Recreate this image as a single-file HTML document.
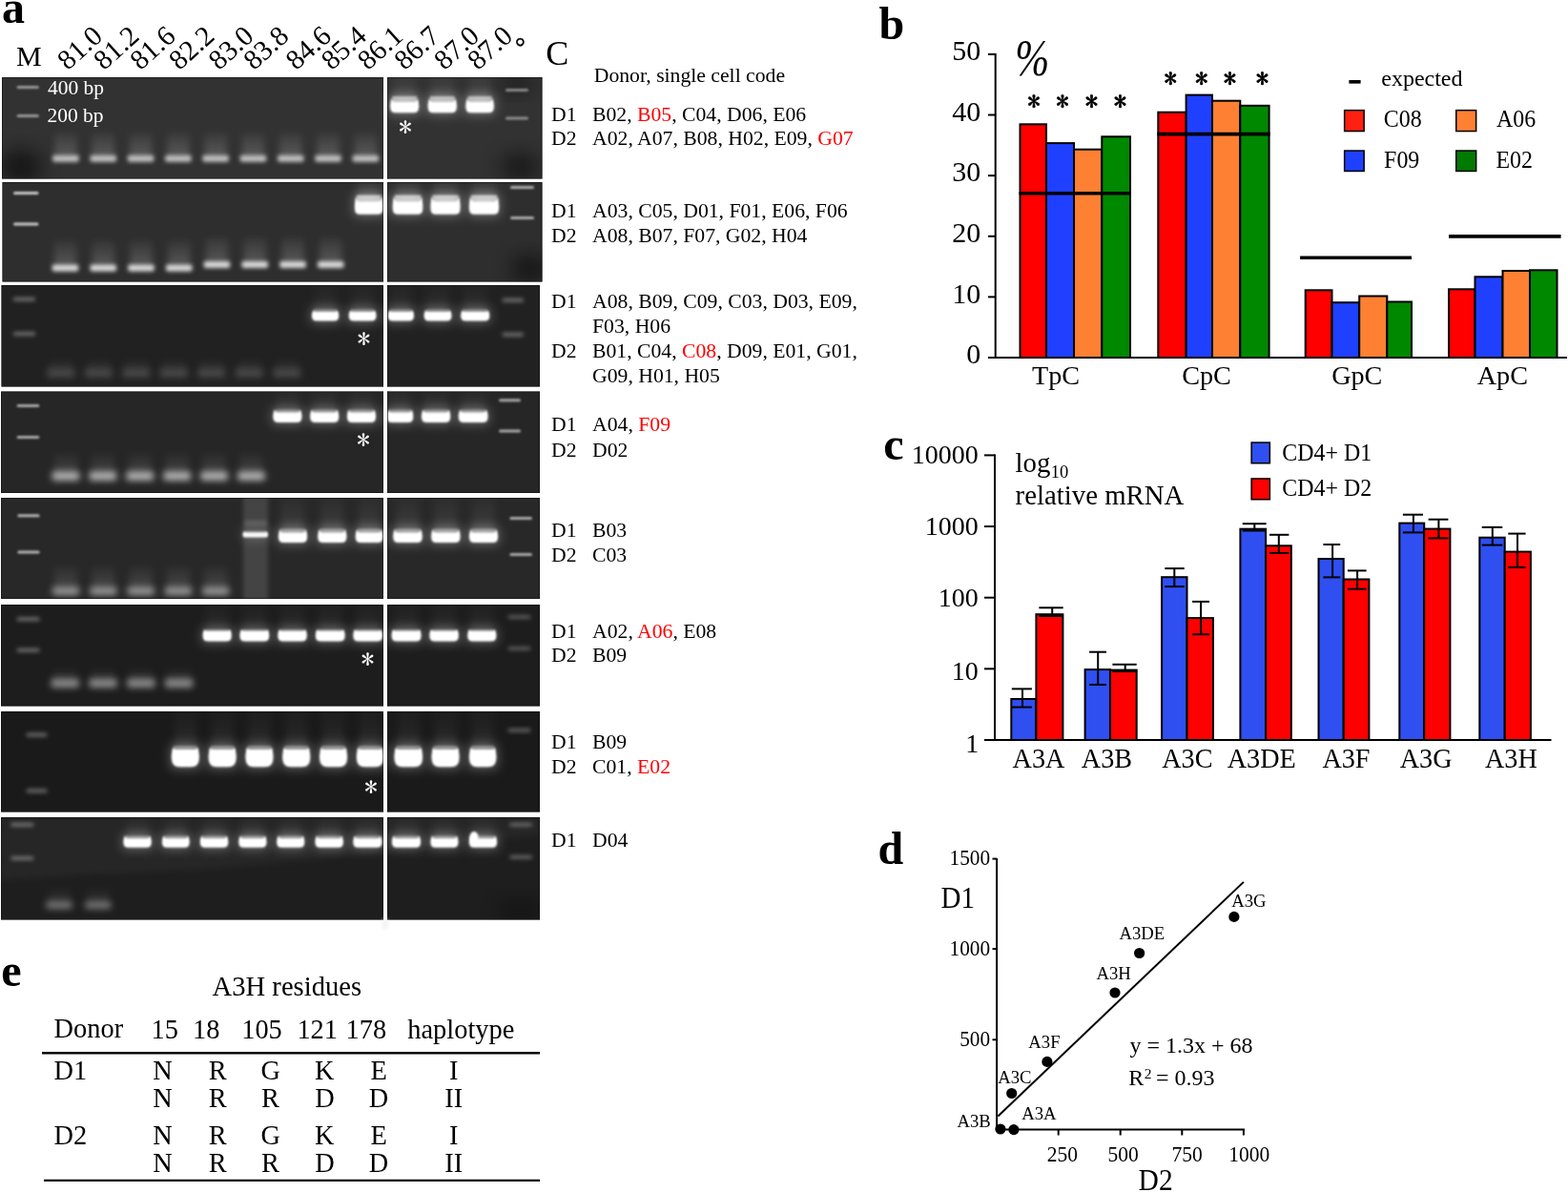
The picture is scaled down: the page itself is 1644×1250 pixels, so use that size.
<!DOCTYPE html>
<html><head><meta charset="utf-8"><title>Figure</title>
<style>html,body{margin:0;padding:0;background:#fff;}svg{display:block;}</style></head>
<body><svg width="1644" height="1250" viewBox="0 0 1644 1250">
<defs>
<filter id="b07" x="-30%" y="-60%" width="160%" height="220%"><feGaussianBlur stdDeviation="0.8"/></filter>
<filter id="b1" x="-30%" y="-60%" width="160%" height="220%"><feGaussianBlur stdDeviation="1.2"/></filter>
<filter id="b2" x="-30%" y="-60%" width="160%" height="220%"><feGaussianBlur stdDeviation="2"/></filter>
<filter id="b3" x="-50%" y="-100%" width="200%" height="300%"><feGaussianBlur stdDeviation="3.5"/></filter>
<filter id="b6" x="-50%" y="-100%" width="200%" height="300%"><feGaussianBlur stdDeviation="6"/></filter>
<filter id="b10" x="-50%" y="-50%" width="200%" height="200%"><feGaussianBlur stdDeviation="10"/></filter>
<linearGradient id="smear" x1="0" y1="0" x2="0" y2="1"><stop offset="0" stop-color="#fff" stop-opacity="0.15"/><stop offset="1" stop-color="#fff" stop-opacity="1"/></linearGradient>
<linearGradient id="smear2" x1="0" y1="0" x2="0" y2="1"><stop offset="0" stop-color="#fff" stop-opacity="0.1"/><stop offset="0.6" stop-color="#fff" stop-opacity="0.4"/><stop offset="1" stop-color="#fff" stop-opacity="1"/></linearGradient>
</defs>
<rect width="1644" height="1250" fill="#fff"/>
<text x="2.06" y="23.60" font-size="48" font-family="Liberation Serif, serif" font-weight="bold" fill="#000" >a</text>
<text x="16.90" y="69.00" font-size="30" font-family="Liberation Serif, serif" fill="#000" >M</text>
<text x="572.36" y="67.60" font-size="36" font-family="Liberation Serif, serif" fill="#000" >C</text>
<text x="0" y="0" font-size="29.5" font-family="Liberation Serif, serif" transform="translate(70.95,74.60) rotate(-42)">81.0</text>
<text x="0" y="0" font-size="29.5" font-family="Liberation Serif, serif" transform="translate(109.05,74.60) rotate(-42)">81.2</text>
<text x="0" y="0" font-size="29.5" font-family="Liberation Serif, serif" transform="translate(147.35,74.60) rotate(-42)">81.6</text>
<text x="0" y="0" font-size="29.5" font-family="Liberation Serif, serif" transform="translate(188.05,74.60) rotate(-42)">82.2</text>
<text x="0" y="0" font-size="29.5" font-family="Liberation Serif, serif" transform="translate(229.45,74.60) rotate(-42)">83.0</text>
<text x="0" y="0" font-size="29.5" font-family="Liberation Serif, serif" transform="translate(266.15,74.60) rotate(-42)">83.8</text>
<text x="0" y="0" font-size="29.5" font-family="Liberation Serif, serif" transform="translate(310.55,74.60) rotate(-42)">84.6</text>
<text x="0" y="0" font-size="29.5" font-family="Liberation Serif, serif" transform="translate(347.65,74.60) rotate(-42)">85.4</text>
<text x="0" y="0" font-size="29.5" font-family="Liberation Serif, serif" transform="translate(385.75,74.60) rotate(-42)">86.1</text>
<text x="0" y="0" font-size="29.5" font-family="Liberation Serif, serif" transform="translate(424.35,74.60) rotate(-42)">86.7</text>
<text x="0" y="0" font-size="29.5" font-family="Liberation Serif, serif" transform="translate(465.95,74.60) rotate(-42)">87.0</text>
<text x="0" y="0" font-size="29.5" font-family="Liberation Serif, serif" transform="translate(500.95,74.60) rotate(-42)">87.0</text>
<text x="539.88" y="58.20" font-size="27" font-family="Liberation Serif, serif" fill="#000" stroke="#000" stroke-width="0.4">°</text>
<text x="622.75" y="85.90" font-size="21.7" font-family="Liberation Serif, serif" fill="#000" >Donor, single cell code</text>
<rect x="2.00" y="81.00" width="566.50" height="106.50" fill="#323232" />
<rect x="2.50" y="191.00" width="566.00" height="104.50" fill="#2e2e2e" />
<rect x="1.50" y="299.00" width="564.50" height="106.50" fill="#212121" />
<rect x="1.00" y="410.50" width="565.00" height="106.50" fill="#262626" />
<rect x="1.00" y="522.00" width="565.00" height="106.00" fill="#282828" />
<rect x="1.00" y="634.00" width="565.00" height="106.50" fill="#1d1d1d" />
<rect x="1.00" y="746.00" width="565.00" height="105.50" fill="#1a1a1a" />
<rect x="1.00" y="857.00" width="565.00" height="107.50" fill="#1e1e1e" />
<defs><clipPath id="gc0"><rect x="2" y="81" width="566.5" height="106.5"/></clipPath><clipPath id="gc1"><rect x="2.5" y="191" width="566.0" height="104.5"/></clipPath><clipPath id="gc2"><rect x="1.5" y="299" width="564.5" height="106.5"/></clipPath><clipPath id="gc3"><rect x="1" y="410.5" width="565" height="106.5"/></clipPath><clipPath id="gc4"><rect x="1" y="522" width="565" height="106"/></clipPath><clipPath id="gc5"><rect x="1" y="634" width="565" height="106.5"/></clipPath><clipPath id="gc6"><rect x="1" y="746" width="565" height="105.5"/></clipPath><clipPath id="gc7"><rect x="1" y="857" width="565" height="107.5"/></clipPath></defs>
<g clip-path="url(#gc0)"><ellipse cx="22" cy="175" rx="22" ry="18" fill="#000" opacity="0.55" filter="url(#b10)"/></g>
<g clip-path="url(#gc0)"><ellipse cx="542" cy="88" rx="16" ry="10" fill="#000" opacity="0.4" filter="url(#b10)"/></g>
<g clip-path="url(#gc0)"><ellipse cx="545" cy="175" rx="20" ry="14" fill="#000" opacity="0.5" filter="url(#b10)"/></g>
<g clip-path="url(#gc0)" filter="url(#b1)">
<rect x="17.6" y="90.0" width="23.2" height="3.0" rx="1.5" fill="#fff" opacity="0.5"/>
<rect x="17.6" y="120.1" width="23.2" height="3.0" rx="1.5" fill="#fff" opacity="0.5"/>
</g>
<g clip-path="url(#gc0)" filter="url(#b1)">
<rect x="530.0" y="93.0" width="24.0" height="3.0" rx="1.5" fill="#fff" opacity="0.45"/>
<rect x="530.0" y="122.4" width="24.0" height="3.0" rx="1.5" fill="#fff" opacity="0.45"/>
</g>
<g clip-path="url(#gc0)">
<g filter="url(#b3)" opacity="0.2">
<rect x="57.2" y="138.7" width="23.5" height="26.0" fill="url(#smear)"/>
<rect x="96.5" y="138.7" width="23.5" height="26.0" fill="url(#smear)"/>
<rect x="135.8" y="138.7" width="23.5" height="26.0" fill="url(#smear)"/>
<rect x="175.1" y="138.7" width="23.5" height="26.0" fill="url(#smear)"/>
<rect x="214.4" y="138.7" width="23.5" height="26.0" fill="url(#smear)"/>
<rect x="253.7" y="138.7" width="23.5" height="26.0" fill="url(#smear)"/>
<rect x="293.0" y="138.7" width="23.5" height="26.0" fill="url(#smear)"/>
<rect x="332.3" y="138.7" width="23.5" height="26.0" fill="url(#smear)"/>
<rect x="371.6" y="138.7" width="23.5" height="26.0" fill="url(#smear)"/>
</g><g filter="url(#b2)">
<rect x="55.2" y="162.7" width="27.5" height="7.0" rx="2" fill="#d8d8d8" opacity="0.85"/>
<rect x="94.5" y="162.7" width="27.5" height="7.0" rx="2" fill="#d8d8d8" opacity="0.85"/>
<rect x="133.8" y="162.7" width="27.5" height="7.0" rx="2" fill="#d8d8d8" opacity="0.85"/>
<rect x="173.1" y="162.7" width="27.5" height="7.0" rx="2" fill="#d8d8d8" opacity="0.85"/>
<rect x="212.4" y="162.7" width="27.5" height="7.0" rx="2" fill="#d8d8d8" opacity="0.85"/>
<rect x="251.7" y="162.7" width="27.5" height="7.0" rx="2" fill="#d8d8d8" opacity="0.85"/>
<rect x="291.0" y="162.7" width="27.5" height="7.0" rx="2" fill="#d8d8d8" opacity="0.85"/>
<rect x="330.3" y="162.7" width="27.5" height="7.0" rx="2" fill="#d8d8d8" opacity="0.85"/>
<rect x="369.6" y="162.7" width="27.5" height="7.0" rx="2" fill="#d8d8d8" opacity="0.85"/>
</g></g>
<g clip-path="url(#gc0)">
<g filter="url(#b3)">
<rect x="412.2" y="78.0" width="23.9" height="28.9" fill="url(#smear2)" opacity="0.2"/>
<rect x="451.7" y="78.0" width="24.1" height="28.9" fill="url(#smear2)" opacity="0.2"/>
<rect x="491.4" y="78.0" width="23.4" height="28.9" fill="url(#smear2)" opacity="0.2"/>
</g>
<g filter="url(#b6)" opacity="0.3">
<rect x="408.2" y="99.9" width="31.9" height="20.4" fill="#fff"/>
<rect x="447.7" y="99.9" width="32.1" height="20.4" fill="#fff"/>
<rect x="487.4" y="99.9" width="31.4" height="20.4" fill="#fff"/>
</g>
<g filter="url(#b1)" opacity="0.55">
<rect x="411.2" y="100.9" width="25.9" height="10.0" fill="#fff"/>
<rect x="450.7" y="100.9" width="26.1" height="10.0" fill="#fff"/>
<rect x="490.4" y="100.9" width="25.4" height="10.0" fill="#fff"/>
</g>
<g filter="url(#b07)" opacity="1.0">
<path d="M410.40,102.90 Q411.70,106.90 414.20,106.90 L434.10,106.90 Q436.60,106.90 437.90,102.90 Q439.70,111.46 439.10,112.80 Q439.10,118.30 433.60,118.30 L414.70,118.30 Q409.20,118.30 409.20,112.80 Q408.60,111.46 410.40,102.90 Z" fill="#fff"/>
<path d="M449.90,102.90 Q451.20,106.90 453.70,106.90 L473.80,106.90 Q476.30,106.90 477.60,102.90 Q479.40,111.46 478.80,112.80 Q478.80,118.30 473.30,118.30 L454.20,118.30 Q448.70,118.30 448.70,112.80 Q448.10,111.46 449.90,102.90 Z" fill="#fff"/>
<path d="M489.60,102.90 Q490.90,106.90 493.40,106.90 L512.80,106.90 Q515.30,106.90 516.60,102.90 Q518.40,111.46 517.80,112.80 Q517.80,118.30 512.30,118.30 L493.90,118.30 Q488.40,118.30 488.40,112.80 Q487.80,111.46 489.60,102.90 Z" fill="#fff"/>
</g></g>
<text x="49.97" y="99.20" font-size="21.5" font-family="Liberation Serif, serif" fill="#fff" >400 bp</text>
<text x="49.43" y="128.00" font-size="21.5" font-family="Liberation Serif, serif" fill="#fff" >200 bp</text>
<text x="418.00" y="143.44" font-size="28" font-family="IPAGothic, sans-serif" fill="#fff" stroke="#fff" stroke-width="0" stroke-linejoin="round">*</text>
<g clip-path="url(#gc1)"><ellipse cx="555" cy="282" rx="18" ry="14" fill="#000" opacity="0.55" filter="url(#b10)"/></g>
<g clip-path="url(#gc1)" filter="url(#b1)">
<rect x="14.0" y="201.1" width="26.5" height="3.0" rx="1.5" fill="#fff" opacity="0.75"/>
<rect x="14.0" y="233.5" width="26.5" height="3.0" rx="1.5" fill="#fff" opacity="0.75"/>
</g>
<g clip-path="url(#gc1)" filter="url(#b1)">
<rect x="535.0" y="195.1" width="25.0" height="3.0" rx="1.5" fill="#fff" opacity="0.6"/>
<rect x="535.0" y="226.9" width="25.0" height="3.0" rx="1.5" fill="#fff" opacity="0.6"/>
</g>
<g clip-path="url(#gc1)">
<g filter="url(#b3)" opacity="0.2">
<rect x="56.7" y="251.5" width="23.5" height="28.0" fill="url(#smear)"/>
<rect x="96.5" y="251.5" width="23.5" height="28.0" fill="url(#smear)"/>
<rect x="136.2" y="251.5" width="23.5" height="28.0" fill="url(#smear)"/>
<rect x="176.0" y="251.5" width="23.5" height="28.0" fill="url(#smear)"/>
</g><g filter="url(#b2)">
<rect x="54.7" y="277.5" width="27.5" height="7.0" rx="2" fill="#ececec" opacity="0.9"/>
<rect x="94.5" y="277.5" width="27.5" height="7.0" rx="2" fill="#ececec" opacity="0.9"/>
<rect x="134.2" y="277.5" width="27.5" height="7.0" rx="2" fill="#ececec" opacity="0.9"/>
<rect x="174.0" y="277.5" width="27.5" height="7.0" rx="2" fill="#ececec" opacity="0.9"/>
</g></g>
<g clip-path="url(#gc1)">
<g filter="url(#b3)" opacity="0.2">
<rect x="215.7" y="248.0" width="23.5" height="28.0" fill="url(#smear)"/>
<rect x="255.5" y="248.0" width="23.5" height="28.0" fill="url(#smear)"/>
<rect x="295.3" y="248.0" width="23.5" height="28.0" fill="url(#smear)"/>
<rect x="335.0" y="248.0" width="23.5" height="28.0" fill="url(#smear)"/>
</g><g filter="url(#b2)">
<rect x="213.7" y="274.0" width="27.5" height="7.0" rx="2" fill="#ececec" opacity="0.9"/>
<rect x="253.5" y="274.0" width="27.5" height="7.0" rx="2" fill="#ececec" opacity="0.9"/>
<rect x="293.3" y="274.0" width="27.5" height="7.0" rx="2" fill="#ececec" opacity="0.9"/>
<rect x="333.0" y="274.0" width="27.5" height="7.0" rx="2" fill="#ececec" opacity="0.9"/>
</g></g>
<g clip-path="url(#gc1)">
<g filter="url(#b3)">
<rect x="375.0" y="188.0" width="23.4" height="23.5" fill="url(#smear2)" opacity="0.28"/>
<rect x="414.8" y="188.0" width="25.4" height="23.5" fill="url(#smear2)" opacity="0.28"/>
<rect x="454.5" y="188.0" width="25.0" height="23.5" fill="url(#smear2)" opacity="0.28"/>
<rect x="495.0" y="188.0" width="25.0" height="23.5" fill="url(#smear2)" opacity="0.28"/>
</g>
<g filter="url(#b6)" opacity="0.3">
<rect x="371.0" y="203.5" width="31.4" height="23.2" fill="#fff"/>
<rect x="410.8" y="203.5" width="33.4" height="23.2" fill="#fff"/>
<rect x="450.5" y="203.5" width="33.0" height="23.2" fill="#fff"/>
<rect x="491.0" y="203.5" width="33.0" height="23.2" fill="#fff"/>
</g>
<g filter="url(#b1)" opacity="0.62">
<rect x="374.0" y="204.5" width="25.4" height="11.0" fill="#fff"/>
<rect x="413.8" y="204.5" width="27.4" height="11.0" fill="#fff"/>
<rect x="453.5" y="204.5" width="27.0" height="11.0" fill="#fff"/>
<rect x="494.0" y="204.5" width="27.0" height="11.0" fill="#fff"/>
</g>
<g filter="url(#b07)" opacity="1.0">
<path d="M373.20,205.50 Q374.50,211.50 377.00,211.50 L396.40,211.50 Q398.90,211.50 400.20,205.50 Q402.00,216.78 401.40,219.20 Q401.40,224.70 395.90,224.70 L377.50,224.70 Q372.00,224.70 372.00,219.20 Q371.40,216.78 373.20,205.50 Z" fill="#fff"/>
<path d="M413.00,205.50 Q414.30,211.50 416.80,211.50 L438.20,211.50 Q440.70,211.50 442.00,205.50 Q443.80,216.78 443.20,219.20 Q443.20,224.70 437.70,224.70 L417.30,224.70 Q411.80,224.70 411.80,219.20 Q411.20,216.78 413.00,205.50 Z" fill="#fff"/>
<path d="M452.70,205.50 Q454.00,211.50 456.50,211.50 L477.50,211.50 Q480.00,211.50 481.30,205.50 Q483.10,216.78 482.50,219.20 Q482.50,224.70 477.00,224.70 L457.00,224.70 Q451.50,224.70 451.50,219.20 Q450.90,216.78 452.70,205.50 Z" fill="#fff"/>
<path d="M493.20,205.50 Q494.50,211.50 497.00,211.50 L518.00,211.50 Q520.50,211.50 521.80,205.50 Q523.60,216.78 523.00,219.20 Q523.00,224.70 517.50,224.70 L497.50,224.70 Q492.00,224.70 492.00,219.20 Q491.40,216.78 493.20,205.50 Z" fill="#fff"/>
</g></g>
<g clip-path="url(#gc2)" filter="url(#b2)">
<rect x="14.0" y="311.9" width="23.0" height="3.5" rx="1.5" fill="#fff" opacity="0.4"/>
<rect x="14.0" y="348.2" width="23.0" height="3.5" rx="1.5" fill="#fff" opacity="0.4"/>
</g>
<g clip-path="url(#gc2)" filter="url(#b2)">
<rect x="526.6" y="313.1" width="22.3" height="3.5" rx="1.5" fill="#fff" opacity="0.4"/>
<rect x="526.6" y="349.1" width="22.3" height="3.5" rx="1.5" fill="#fff" opacity="0.4"/>
</g>
<g clip-path="url(#gc2)">
<g filter="url(#b3)" opacity="0.08">
<rect x="51.4" y="376.9" width="25.0" height="12.0" fill="url(#smear)"/>
<rect x="90.9" y="376.9" width="25.0" height="12.0" fill="url(#smear)"/>
<rect x="130.4" y="376.9" width="25.0" height="12.0" fill="url(#smear)"/>
<rect x="169.9" y="376.9" width="25.0" height="12.0" fill="url(#smear)"/>
<rect x="209.4" y="376.9" width="25.0" height="12.0" fill="url(#smear)"/>
<rect x="248.9" y="376.9" width="25.0" height="12.0" fill="url(#smear)"/>
<rect x="288.4" y="376.9" width="25.0" height="12.0" fill="url(#smear)"/>
</g><g filter="url(#b3)">
<rect x="49.4" y="386.9" width="29.0" height="9.0" rx="2" fill="#666" opacity="0.55"/>
<rect x="88.9" y="386.9" width="29.0" height="9.0" rx="2" fill="#666" opacity="0.55"/>
<rect x="128.4" y="386.9" width="29.0" height="9.0" rx="2" fill="#666" opacity="0.55"/>
<rect x="167.9" y="386.9" width="29.0" height="9.0" rx="2" fill="#666" opacity="0.55"/>
<rect x="207.4" y="386.9" width="29.0" height="9.0" rx="2" fill="#666" opacity="0.55"/>
<rect x="246.9" y="386.9" width="29.0" height="9.0" rx="2" fill="#666" opacity="0.55"/>
<rect x="286.4" y="386.9" width="29.0" height="9.0" rx="2" fill="#666" opacity="0.55"/>
</g></g>
<g clip-path="url(#gc2)">
<g filter="url(#b3)">
<rect x="330.0" y="296.0" width="22.2" height="31.1" fill="url(#smear2)" opacity="0.1"/>
<rect x="368.8" y="296.0" width="22.6" height="31.1" fill="url(#smear2)" opacity="0.1"/>
<rect x="409.7" y="296.0" width="21.2" height="31.1" fill="url(#smear2)" opacity="0.1"/>
<rect x="447.7" y="296.0" width="22.7" height="31.1" fill="url(#smear2)" opacity="0.1"/>
<rect x="486.2" y="296.0" width="24.0" height="31.1" fill="url(#smear2)" opacity="0.1"/>
</g>
<g filter="url(#b6)" opacity="0.3">
<rect x="326.0" y="323.1" width="30.2" height="15.5" fill="#fff"/>
<rect x="364.8" y="323.1" width="30.6" height="15.5" fill="#fff"/>
<rect x="405.7" y="323.1" width="29.2" height="15.5" fill="#fff"/>
<rect x="443.7" y="323.1" width="30.7" height="15.5" fill="#fff"/>
<rect x="482.2" y="323.1" width="32.0" height="15.5" fill="#fff"/>
</g>
<g filter="url(#b1)" opacity="0.3">
<rect x="329.0" y="324.1" width="24.2" height="7.0" fill="#fff"/>
<rect x="367.8" y="324.1" width="24.6" height="7.0" fill="#fff"/>
<rect x="408.7" y="324.1" width="23.2" height="7.0" fill="#fff"/>
<rect x="446.7" y="324.1" width="24.7" height="7.0" fill="#fff"/>
<rect x="485.2" y="324.1" width="26.0" height="7.0" fill="#fff"/>
</g>
<g filter="url(#b07)" opacity="1.0">
<path d="M328.20,325.60 Q329.50,327.10 332.00,327.10 L350.20,327.10 Q352.70,327.10 354.00,325.60 Q355.80,330.90 355.20,331.85 Q355.20,336.60 350.45,336.60 L331.75,336.60 Q327.00,336.60 327.00,331.85 Q326.40,330.90 328.20,325.60 Z" fill="#fff"/>
<path d="M367.00,325.60 Q368.30,327.10 370.80,327.10 L389.40,327.10 Q391.90,327.10 393.20,325.60 Q395.00,330.90 394.40,331.85 Q394.40,336.60 389.65,336.60 L370.55,336.60 Q365.80,336.60 365.80,331.85 Q365.20,330.90 367.00,325.60 Z" fill="#fff"/>
<path d="M407.90,325.60 Q409.20,327.10 411.70,327.10 L428.90,327.10 Q431.40,327.10 432.70,325.60 Q434.50,330.90 433.90,331.85 Q433.90,336.60 429.15,336.60 L411.45,336.60 Q406.70,336.60 406.70,331.85 Q406.10,330.90 407.90,325.60 Z" fill="#fff"/>
<path d="M445.90,325.60 Q447.20,327.10 449.70,327.10 L468.40,327.10 Q470.90,327.10 472.20,325.60 Q474.00,330.90 473.40,331.85 Q473.40,336.60 468.65,336.60 L449.45,336.60 Q444.70,336.60 444.70,331.85 Q444.10,330.90 445.90,325.60 Z" fill="#fff"/>
<path d="M484.40,325.60 Q485.70,327.10 488.20,327.10 L508.20,327.10 Q510.70,327.10 512.00,325.60 Q513.80,330.90 513.20,331.85 Q513.20,336.60 508.45,336.60 L487.95,336.60 Q483.20,336.60 483.20,331.85 Q482.60,330.90 484.40,325.60 Z" fill="#fff"/>
</g></g>
<text x="374.60" y="364.94" font-size="28" font-family="IPAGothic, sans-serif" fill="#fff" stroke="#fff" stroke-width="0" stroke-linejoin="round">*</text>
<g clip-path="url(#gc3)" filter="url(#b1)">
<rect x="17.6" y="424.0" width="23.7" height="3.0" rx="1.5" fill="#fff" opacity="0.6"/>
<rect x="17.6" y="457.1" width="23.7" height="3.0" rx="1.5" fill="#fff" opacity="0.6"/>
</g>
<g clip-path="url(#gc3)" filter="url(#b1)">
<rect x="523.0" y="418.3" width="23.0" height="3.0" rx="1.5" fill="#fff" opacity="0.6"/>
<rect x="523.0" y="450.4" width="23.0" height="3.0" rx="1.5" fill="#fff" opacity="0.6"/>
</g>
<g clip-path="url(#gc3)">
<g filter="url(#b3)" opacity="0.13">
<rect x="56.7" y="474.8" width="24.5" height="22.0" fill="url(#smear)"/>
<rect x="95.6" y="474.8" width="24.5" height="22.0" fill="url(#smear)"/>
<rect x="134.5" y="474.8" width="24.5" height="22.0" fill="url(#smear)"/>
<rect x="173.4" y="474.8" width="24.5" height="22.0" fill="url(#smear)"/>
<rect x="212.3" y="474.8" width="24.5" height="22.0" fill="url(#smear)"/>
<rect x="251.2" y="474.8" width="24.5" height="22.0" fill="url(#smear)"/>
</g><g filter="url(#b3)">
<rect x="54.7" y="494.8" width="28.5" height="9.0" rx="2" fill="#d0d0d0" opacity="0.85"/>
<rect x="93.6" y="494.8" width="28.5" height="9.0" rx="2" fill="#d0d0d0" opacity="0.85"/>
<rect x="132.5" y="494.8" width="28.5" height="9.0" rx="2" fill="#d0d0d0" opacity="0.85"/>
<rect x="171.4" y="494.8" width="28.5" height="9.0" rx="2" fill="#d0d0d0" opacity="0.85"/>
<rect x="210.3" y="494.8" width="28.5" height="9.0" rx="2" fill="#d0d0d0" opacity="0.85"/>
<rect x="249.2" y="494.8" width="28.5" height="9.0" rx="2" fill="#d0d0d0" opacity="0.85"/>
</g></g>
<g clip-path="url(#gc3)">
<g filter="url(#b3)">
<rect x="289.4" y="407.5" width="24.0" height="24.9" fill="url(#smear2)" opacity="0.12"/>
<rect x="328.2" y="407.5" width="24.0" height="24.9" fill="url(#smear2)" opacity="0.12"/>
<rect x="367.0" y="407.5" width="24.0" height="24.9" fill="url(#smear2)" opacity="0.12"/>
<rect x="408.6" y="407.5" width="21.6" height="24.9" fill="url(#smear2)" opacity="0.12"/>
<rect x="445.0" y="407.5" width="24.2" height="24.9" fill="url(#smear2)" opacity="0.12"/>
<rect x="483.8" y="407.5" width="24.7" height="24.9" fill="url(#smear2)" opacity="0.12"/>
</g>
<g filter="url(#b6)" opacity="0.3">
<rect x="285.4" y="428.4" width="32.0" height="16.5" fill="#fff"/>
<rect x="324.2" y="428.4" width="32.0" height="16.5" fill="#fff"/>
<rect x="363.0" y="428.4" width="32.0" height="16.5" fill="#fff"/>
<rect x="404.6" y="428.4" width="29.6" height="16.5" fill="#fff"/>
<rect x="441.0" y="428.4" width="32.2" height="16.5" fill="#fff"/>
<rect x="479.8" y="428.4" width="32.7" height="16.5" fill="#fff"/>
</g>
<g filter="url(#b1)" opacity="0.35">
<rect x="288.4" y="429.4" width="26.0" height="7.0" fill="#fff"/>
<rect x="327.2" y="429.4" width="26.0" height="7.0" fill="#fff"/>
<rect x="366.0" y="429.4" width="26.0" height="7.0" fill="#fff"/>
<rect x="407.6" y="429.4" width="23.6" height="7.0" fill="#fff"/>
<rect x="444.0" y="429.4" width="26.2" height="7.0" fill="#fff"/>
<rect x="482.8" y="429.4" width="26.7" height="7.0" fill="#fff"/>
</g>
<g filter="url(#b07)" opacity="1.0">
<path d="M287.60,429.70 Q288.90,432.40 291.40,432.40 L311.40,432.40 Q313.90,432.40 315.20,429.70 Q317.00,436.60 316.40,437.65 Q316.40,442.90 311.15,442.90 L291.65,442.90 Q286.40,442.90 286.40,437.65 Q285.80,436.60 287.60,429.70 Z" fill="#fff"/>
<path d="M326.40,429.70 Q327.70,432.40 330.20,432.40 L350.20,432.40 Q352.70,432.40 354.00,429.70 Q355.80,436.60 355.20,437.65 Q355.20,442.90 349.95,442.90 L330.45,442.90 Q325.20,442.90 325.20,437.65 Q324.60,436.60 326.40,429.70 Z" fill="#fff"/>
<path d="M365.20,429.70 Q366.50,432.40 369.00,432.40 L389.00,432.40 Q391.50,432.40 392.80,429.70 Q394.60,436.60 394.00,437.65 Q394.00,442.90 388.75,442.90 L369.25,442.90 Q364.00,442.90 364.00,437.65 Q363.40,436.60 365.20,429.70 Z" fill="#fff"/>
<path d="M406.80,429.70 Q408.10,432.40 410.60,432.40 L428.20,432.40 Q430.70,432.40 432.00,429.70 Q433.80,436.60 433.20,437.65 Q433.20,442.90 427.95,442.90 L410.85,442.90 Q405.60,442.90 405.60,437.65 Q405.00,436.60 406.80,429.70 Z" fill="#fff"/>
<path d="M443.20,429.70 Q444.50,432.40 447.00,432.40 L467.20,432.40 Q469.70,432.40 471.00,429.70 Q472.80,436.60 472.20,437.65 Q472.20,442.90 466.95,442.90 L447.25,442.90 Q442.00,442.90 442.00,437.65 Q441.40,436.60 443.20,429.70 Z" fill="#fff"/>
<path d="M482.00,429.70 Q483.30,432.40 485.80,432.40 L506.50,432.40 Q509.00,432.40 510.30,429.70 Q512.10,436.60 511.50,437.65 Q511.50,442.90 506.25,442.90 L486.05,442.90 Q480.80,442.90 480.80,437.65 Q480.20,436.60 482.00,429.70 Z" fill="#fff"/>
</g></g>
<text x="374.00" y="471.04" font-size="28" font-family="IPAGothic, sans-serif" fill="#fff" stroke="#fff" stroke-width="0" stroke-linejoin="round">*</text>
<g clip-path="url(#gc4)" filter="url(#b1)">
<rect x="18.3" y="539.3" width="23.3" height="3.0" rx="1.5" fill="#fff" opacity="0.65"/>
<rect x="18.3" y="577.4" width="23.3" height="3.0" rx="1.5" fill="#fff" opacity="0.65"/>
</g>
<g clip-path="url(#gc4)" filter="url(#b1)">
<rect x="534.4" y="542.1" width="23.6" height="3.0" rx="1.5" fill="#fff" opacity="0.6"/>
<rect x="534.4" y="579.9" width="23.6" height="3.0" rx="1.5" fill="#fff" opacity="0.6"/>
</g>
<g clip-path="url(#gc4)">
<g filter="url(#b3)" opacity="0.15">
<rect x="57.0" y="594.0" width="24.0" height="24.0" fill="url(#smear)"/>
<rect x="96.3" y="594.0" width="24.0" height="24.0" fill="url(#smear)"/>
<rect x="135.6" y="594.0" width="24.0" height="24.0" fill="url(#smear)"/>
<rect x="174.9" y="594.0" width="24.0" height="24.0" fill="url(#smear)"/>
<rect x="214.2" y="594.0" width="24.0" height="24.0" fill="url(#smear)"/>
</g><g filter="url(#b3)">
<rect x="55.0" y="616.0" width="28.0" height="8.0" rx="2" fill="#b8b8b8" opacity="0.8"/>
<rect x="94.3" y="616.0" width="28.0" height="8.0" rx="2" fill="#b8b8b8" opacity="0.8"/>
<rect x="133.6" y="616.0" width="28.0" height="8.0" rx="2" fill="#b8b8b8" opacity="0.8"/>
<rect x="172.9" y="616.0" width="28.0" height="8.0" rx="2" fill="#b8b8b8" opacity="0.8"/>
<rect x="212.2" y="616.0" width="28.0" height="8.0" rx="2" fill="#b8b8b8" opacity="0.8"/>
</g></g>
<g clip-path="url(#gc4)" filter="url(#b2)"><rect x="255" y="520" width="26" height="110" fill="#fff" opacity="0.13"/><rect x="256" y="546" width="24" height="5" fill="#fff" opacity="0.15"/></g>
<g clip-path="url(#gc4)">
<g filter="url(#b3)">
<rect x="257.5" y="519.0" width="20.5" height="39.3" fill="url(#smear2)" opacity="0.0"/>
</g>
<g filter="url(#b6)" opacity="0.2">
<rect x="253.5" y="555.3" width="28.5" height="10.2" fill="#fff"/>
</g>
<g filter="url(#b1)" opacity="0.2">
<rect x="256.5" y="556.3" width="22.5" height="6.0" fill="#fff"/>
</g>
<g filter="url(#b07)" opacity="0.95">
<path d="M255.70,557.30 Q257.00,558.30 259.50,558.30 L276.00,558.30 Q278.50,558.30 279.80,557.30 Q281.60,560.38 281.00,560.90 Q281.00,563.50 278.40,563.50 L257.10,563.50 Q254.50,563.50 254.50,560.90 Q253.90,560.38 255.70,557.30 Z" fill="#fff"/>
</g></g>
<g clip-path="url(#gc4)">
<g filter="url(#b3)">
<rect x="295.0" y="519.0" width="24.0" height="39.5" fill="url(#smear2)" opacity="0.16"/>
<rect x="336.3" y="519.0" width="24.0" height="39.5" fill="url(#smear2)" opacity="0.16"/>
<rect x="375.8" y="519.0" width="22.6" height="39.5" fill="url(#smear2)" opacity="0.16"/>
<rect x="415.3" y="519.0" width="24.4" height="39.5" fill="url(#smear2)" opacity="0.16"/>
<rect x="455.2" y="519.0" width="24.3" height="39.5" fill="url(#smear2)" opacity="0.16"/>
<rect x="495.0" y="519.0" width="24.0" height="39.5" fill="url(#smear2)" opacity="0.16"/>
</g>
<g filter="url(#b6)" opacity="0.3">
<rect x="291.0" y="553.5" width="32.0" height="17.5" fill="#fff"/>
<rect x="332.3" y="553.5" width="32.0" height="17.5" fill="#fff"/>
<rect x="371.8" y="553.5" width="30.6" height="17.5" fill="#fff"/>
<rect x="411.3" y="553.5" width="32.4" height="17.5" fill="#fff"/>
<rect x="451.2" y="553.5" width="32.3" height="17.5" fill="#fff"/>
<rect x="491.0" y="553.5" width="32.0" height="17.5" fill="#fff"/>
</g>
<g filter="url(#b1)" opacity="0.4">
<rect x="294.0" y="554.5" width="26.0" height="8.0" fill="#fff"/>
<rect x="335.3" y="554.5" width="26.0" height="8.0" fill="#fff"/>
<rect x="374.8" y="554.5" width="24.6" height="8.0" fill="#fff"/>
<rect x="414.3" y="554.5" width="26.4" height="8.0" fill="#fff"/>
<rect x="454.2" y="554.5" width="26.3" height="8.0" fill="#fff"/>
<rect x="494.0" y="554.5" width="26.0" height="8.0" fill="#fff"/>
</g>
<g filter="url(#b07)" opacity="1.0">
<path d="M293.20,555.00 Q294.50,558.50 297.00,558.50 L317.00,558.50 Q319.50,558.50 320.80,555.00 Q322.60,562.70 322.00,563.75 Q322.00,569.00 316.75,569.00 L297.25,569.00 Q292.00,569.00 292.00,563.75 Q291.40,562.70 293.20,555.00 Z" fill="#fff"/>
<path d="M334.50,555.00 Q335.80,558.50 338.30,558.50 L358.30,558.50 Q360.80,558.50 362.10,555.00 Q363.90,562.70 363.30,563.75 Q363.30,569.00 358.05,569.00 L338.55,569.00 Q333.30,569.00 333.30,563.75 Q332.70,562.70 334.50,555.00 Z" fill="#fff"/>
<path d="M374.00,555.00 Q375.30,558.50 377.80,558.50 L396.40,558.50 Q398.90,558.50 400.20,555.00 Q402.00,562.70 401.40,563.75 Q401.40,569.00 396.15,569.00 L378.05,569.00 Q372.80,569.00 372.80,563.75 Q372.20,562.70 374.00,555.00 Z" fill="#fff"/>
<path d="M413.50,555.00 Q414.80,558.50 417.30,558.50 L437.70,558.50 Q440.20,558.50 441.50,555.00 Q443.30,562.70 442.70,563.75 Q442.70,569.00 437.45,569.00 L417.55,569.00 Q412.30,569.00 412.30,563.75 Q411.70,562.70 413.50,555.00 Z" fill="#fff"/>
<path d="M453.40,555.00 Q454.70,558.50 457.20,558.50 L477.50,558.50 Q480.00,558.50 481.30,555.00 Q483.10,562.70 482.50,563.75 Q482.50,569.00 477.25,569.00 L457.45,569.00 Q452.20,569.00 452.20,563.75 Q451.60,562.70 453.40,555.00 Z" fill="#fff"/>
<path d="M493.20,555.00 Q494.50,558.50 497.00,558.50 L517.00,558.50 Q519.50,558.50 520.80,555.00 Q522.60,562.70 522.00,563.75 Q522.00,569.00 516.75,569.00 L497.25,569.00 Q492.00,569.00 492.00,563.75 Q491.40,562.70 493.20,555.00 Z" fill="#fff"/>
</g></g>
<g clip-path="url(#gc5)" filter="url(#b2)">
<rect x="17.6" y="647.6" width="24.0" height="3.5" rx="1.5" fill="#fff" opacity="0.4"/>
<rect x="17.6" y="680.1" width="24.0" height="3.5" rx="1.5" fill="#fff" opacity="0.4"/>
</g>
<g clip-path="url(#gc5)" filter="url(#b2)">
<rect x="532.6" y="645.2" width="23.7" height="3.5" rx="1.5" fill="#fff" opacity="0.3"/>
<rect x="532.6" y="678.2" width="23.7" height="3.5" rx="1.5" fill="#fff" opacity="0.3"/>
</g>
<g clip-path="url(#gc5)">
<g filter="url(#b3)" opacity="0.1">
<rect x="55.6" y="701.0" width="25.3" height="13.0" fill="url(#smear)"/>
<rect x="95.4" y="701.0" width="25.3" height="13.0" fill="url(#smear)"/>
<rect x="135.2" y="701.0" width="25.3" height="13.0" fill="url(#smear)"/>
<rect x="175.0" y="701.0" width="25.3" height="13.0" fill="url(#smear)"/>
</g><g filter="url(#b3)">
<rect x="53.6" y="712.0" width="29.3" height="9.0" rx="2" fill="#9a9a9a" opacity="0.9"/>
<rect x="93.4" y="712.0" width="29.3" height="9.0" rx="2" fill="#9a9a9a" opacity="0.9"/>
<rect x="133.2" y="712.0" width="29.3" height="9.0" rx="2" fill="#9a9a9a" opacity="0.9"/>
<rect x="173.0" y="712.0" width="29.3" height="9.0" rx="2" fill="#9a9a9a" opacity="0.9"/>
</g></g>
<g clip-path="url(#gc5)">
<g filter="url(#b3)">
<rect x="215.7" y="631.0" width="24.0" height="30.8" fill="url(#smear2)" opacity="0.1"/>
<rect x="254.5" y="631.0" width="24.7" height="30.8" fill="url(#smear2)" opacity="0.1"/>
<rect x="294.4" y="631.0" width="24.3" height="30.8" fill="url(#smear2)" opacity="0.1"/>
<rect x="333.9" y="631.0" width="24.7" height="30.8" fill="url(#smear2)" opacity="0.1"/>
<rect x="373.4" y="631.0" width="24.6" height="30.8" fill="url(#smear2)" opacity="0.1"/>
<rect x="413.6" y="631.0" width="24.9" height="30.8" fill="url(#smear2)" opacity="0.1"/>
<rect x="453.4" y="631.0" width="24.4" height="30.8" fill="url(#smear2)" opacity="0.1"/>
<rect x="493.3" y="631.0" width="24.0" height="30.8" fill="url(#smear2)" opacity="0.1"/>
</g>
<g filter="url(#b6)" opacity="0.3">
<rect x="211.7" y="658.8" width="32.0" height="15.7" fill="#fff"/>
<rect x="250.5" y="658.8" width="32.7" height="15.7" fill="#fff"/>
<rect x="290.4" y="658.8" width="32.3" height="15.7" fill="#fff"/>
<rect x="329.9" y="658.8" width="32.7" height="15.7" fill="#fff"/>
<rect x="369.4" y="658.8" width="32.6" height="15.7" fill="#fff"/>
<rect x="409.6" y="658.8" width="32.9" height="15.7" fill="#fff"/>
<rect x="449.4" y="658.8" width="32.4" height="15.7" fill="#fff"/>
<rect x="489.3" y="658.8" width="32.0" height="15.7" fill="#fff"/>
</g>
<g filter="url(#b1)" opacity="0.3">
<rect x="214.7" y="659.8" width="26.0" height="6.0" fill="#fff"/>
<rect x="253.5" y="659.8" width="26.7" height="6.0" fill="#fff"/>
<rect x="293.4" y="659.8" width="26.3" height="6.0" fill="#fff"/>
<rect x="332.9" y="659.8" width="26.7" height="6.0" fill="#fff"/>
<rect x="372.4" y="659.8" width="26.6" height="6.0" fill="#fff"/>
<rect x="412.6" y="659.8" width="26.9" height="6.0" fill="#fff"/>
<rect x="452.4" y="659.8" width="26.4" height="6.0" fill="#fff"/>
<rect x="492.3" y="659.8" width="26.0" height="6.0" fill="#fff"/>
</g>
<g filter="url(#b07)" opacity="1.0">
<path d="M213.90,660.30 Q215.20,661.80 217.70,661.80 L237.70,661.80 Q240.20,661.80 241.50,660.30 Q243.30,666.08 242.70,667.15 Q242.70,672.50 237.35,672.50 L218.05,672.50 Q212.70,672.50 212.70,667.15 Q212.10,666.08 213.90,660.30 Z" fill="#fff"/>
<path d="M252.70,660.30 Q254.00,661.80 256.50,661.80 L277.20,661.80 Q279.70,661.80 281.00,660.30 Q282.80,666.08 282.20,667.15 Q282.20,672.50 276.85,672.50 L256.85,672.50 Q251.50,672.50 251.50,667.15 Q250.90,666.08 252.70,660.30 Z" fill="#fff"/>
<path d="M292.60,660.30 Q293.90,661.80 296.40,661.80 L316.70,661.80 Q319.20,661.80 320.50,660.30 Q322.30,666.08 321.70,667.15 Q321.70,672.50 316.35,672.50 L296.75,672.50 Q291.40,672.50 291.40,667.15 Q290.80,666.08 292.60,660.30 Z" fill="#fff"/>
<path d="M332.10,660.30 Q333.40,661.80 335.90,661.80 L356.60,661.80 Q359.10,661.80 360.40,660.30 Q362.20,666.08 361.60,667.15 Q361.60,672.50 356.25,672.50 L336.25,672.50 Q330.90,672.50 330.90,667.15 Q330.30,666.08 332.10,660.30 Z" fill="#fff"/>
<path d="M371.60,660.30 Q372.90,661.80 375.40,661.80 L396.00,661.80 Q398.50,661.80 399.80,660.30 Q401.60,666.08 401.00,667.15 Q401.00,672.50 395.65,672.50 L375.75,672.50 Q370.40,672.50 370.40,667.15 Q369.80,666.08 371.60,660.30 Z" fill="#fff"/>
<path d="M411.80,660.30 Q413.10,661.80 415.60,661.80 L436.50,661.80 Q439.00,661.80 440.30,660.30 Q442.10,666.08 441.50,667.15 Q441.50,672.50 436.15,672.50 L415.95,672.50 Q410.60,672.50 410.60,667.15 Q410.00,666.08 411.80,660.30 Z" fill="#fff"/>
<path d="M451.60,660.30 Q452.90,661.80 455.40,661.80 L475.80,661.80 Q478.30,661.80 479.60,660.30 Q481.40,666.08 480.80,667.15 Q480.80,672.50 475.45,672.50 L455.75,672.50 Q450.40,672.50 450.40,667.15 Q449.80,666.08 451.60,660.30 Z" fill="#fff"/>
<path d="M491.50,660.30 Q492.80,661.80 495.30,661.80 L515.30,661.80 Q517.80,661.80 519.10,660.30 Q520.90,666.08 520.30,667.15 Q520.30,672.50 514.95,672.50 L495.65,672.50 Q490.30,672.50 490.30,667.15 Q489.70,666.08 491.50,660.30 Z" fill="#fff"/>
</g></g>
<text x="378.50" y="700.64" font-size="28" font-family="IPAGothic, sans-serif" fill="#fff" stroke="#fff" stroke-width="0" stroke-linejoin="round">*</text>
<g clip-path="url(#gc6)" filter="url(#b2)">
<rect x="27.5" y="768.4" width="21.9" height="4" rx="1.5" fill="#fff" opacity="0.35"/>
<rect x="27.5" y="827.3" width="21.9" height="4" rx="1.5" fill="#fff" opacity="0.35"/>
</g>
<g clip-path="url(#gc6)" filter="url(#b2)">
<rect x="532.6" y="763.8" width="23.7" height="4" rx="1.5" fill="#fff" opacity="0.3"/>
</g>
<g clip-path="url(#gc6)">
<g filter="url(#b3)">
<rect x="182.9" y="743.0" width="22.9" height="43.0" fill="url(#smear2)" opacity="0.12"/>
<rect x="221.7" y="743.0" width="22.9" height="43.0" fill="url(#smear2)" opacity="0.12"/>
<rect x="260.5" y="743.0" width="22.9" height="43.0" fill="url(#smear2)" opacity="0.12"/>
<rect x="299.3" y="743.0" width="22.9" height="43.0" fill="url(#smear2)" opacity="0.12"/>
<rect x="338.1" y="743.0" width="22.9" height="43.0" fill="url(#smear2)" opacity="0.12"/>
<rect x="376.9" y="743.0" width="22.1" height="43.0" fill="url(#smear2)" opacity="0.12"/>
<rect x="416.5" y="743.0" width="23.5" height="43.0" fill="url(#smear2)" opacity="0.12"/>
<rect x="455.6" y="743.0" width="22.9" height="43.0" fill="url(#smear2)" opacity="0.12"/>
<rect x="495.0" y="743.0" width="22.3" height="43.0" fill="url(#smear2)" opacity="0.12"/>
</g>
<g filter="url(#b6)" opacity="0.3">
<rect x="178.9" y="781.0" width="30.9" height="25.3" fill="#fff"/>
<rect x="217.7" y="781.0" width="30.9" height="25.3" fill="#fff"/>
<rect x="256.5" y="781.0" width="30.9" height="25.3" fill="#fff"/>
<rect x="295.3" y="781.0" width="30.9" height="25.3" fill="#fff"/>
<rect x="334.1" y="781.0" width="30.9" height="25.3" fill="#fff"/>
<rect x="372.9" y="781.0" width="30.1" height="25.3" fill="#fff"/>
<rect x="412.5" y="781.0" width="31.5" height="25.3" fill="#fff"/>
<rect x="451.6" y="781.0" width="30.9" height="25.3" fill="#fff"/>
<rect x="491.0" y="781.0" width="30.3" height="25.3" fill="#fff"/>
</g>
<g filter="url(#b1)" opacity="0.35">
<rect x="181.9" y="782.0" width="24.9" height="8.0" fill="#fff"/>
<rect x="220.7" y="782.0" width="24.9" height="8.0" fill="#fff"/>
<rect x="259.5" y="782.0" width="24.9" height="8.0" fill="#fff"/>
<rect x="298.3" y="782.0" width="24.9" height="8.0" fill="#fff"/>
<rect x="337.1" y="782.0" width="24.9" height="8.0" fill="#fff"/>
<rect x="375.9" y="782.0" width="24.1" height="8.0" fill="#fff"/>
<rect x="415.5" y="782.0" width="25.5" height="8.0" fill="#fff"/>
<rect x="454.6" y="782.0" width="24.9" height="8.0" fill="#fff"/>
<rect x="494.0" y="782.0" width="24.3" height="8.0" fill="#fff"/>
</g>
<g filter="url(#b07)" opacity="1.0">
<path d="M181.10,784.00 Q182.40,786.00 184.90,786.00 L203.80,786.00 Q206.30,786.00 207.60,784.00 Q209.40,793.32 208.80,795.80 Q208.80,804.30 200.30,804.30 L188.40,804.30 Q179.90,804.30 179.90,795.80 Q179.30,793.32 181.10,784.00 Z" fill="#fff"/>
<path d="M219.90,784.00 Q221.20,786.00 223.70,786.00 L242.60,786.00 Q245.10,786.00 246.40,784.00 Q248.20,793.32 247.60,795.80 Q247.60,804.30 239.10,804.30 L227.20,804.30 Q218.70,804.30 218.70,795.80 Q218.10,793.32 219.90,784.00 Z" fill="#fff"/>
<path d="M258.70,784.00 Q260.00,786.00 262.50,786.00 L281.40,786.00 Q283.90,786.00 285.20,784.00 Q287.00,793.32 286.40,795.80 Q286.40,804.30 277.90,804.30 L266.00,804.30 Q257.50,804.30 257.50,795.80 Q256.90,793.32 258.70,784.00 Z" fill="#fff"/>
<path d="M297.50,784.00 Q298.80,786.00 301.30,786.00 L320.20,786.00 Q322.70,786.00 324.00,784.00 Q325.80,793.32 325.20,795.80 Q325.20,804.30 316.70,804.30 L304.80,804.30 Q296.30,804.30 296.30,795.80 Q295.70,793.32 297.50,784.00 Z" fill="#fff"/>
<path d="M336.30,784.00 Q337.60,786.00 340.10,786.00 L359.00,786.00 Q361.50,786.00 362.80,784.00 Q364.60,793.32 364.00,795.80 Q364.00,804.30 355.50,804.30 L343.60,804.30 Q335.10,804.30 335.10,795.80 Q334.50,793.32 336.30,784.00 Z" fill="#fff"/>
<path d="M375.10,784.00 Q376.40,786.00 378.90,786.00 L397.00,786.00 Q399.50,786.00 400.80,784.00 Q402.60,793.32 402.00,795.80 Q402.00,804.30 393.50,804.30 L382.40,804.30 Q373.90,804.30 373.90,795.80 Q373.30,793.32 375.10,784.00 Z" fill="#fff"/>
<path d="M414.70,784.00 Q416.00,786.00 418.50,786.00 L438.00,786.00 Q440.50,786.00 441.80,784.00 Q443.60,793.32 443.00,795.80 Q443.00,804.30 434.50,804.30 L422.00,804.30 Q413.50,804.30 413.50,795.80 Q412.90,793.32 414.70,784.00 Z" fill="#fff"/>
<path d="M453.80,784.00 Q455.10,786.00 457.60,786.00 L476.50,786.00 Q479.00,786.00 480.30,784.00 Q482.10,793.32 481.50,795.80 Q481.50,804.30 473.00,804.30 L461.10,804.30 Q452.60,804.30 452.60,795.80 Q452.00,793.32 453.80,784.00 Z" fill="#fff"/>
<path d="M493.20,784.00 Q494.50,786.00 497.00,786.00 L515.30,786.00 Q517.80,786.00 519.10,784.00 Q520.90,793.32 520.30,795.80 Q520.30,804.30 511.80,804.30 L500.50,804.30 Q492.00,804.30 492.00,795.80 Q491.40,793.32 493.20,784.00 Z" fill="#fff"/>
</g></g>
<text x="382.00" y="834.64" font-size="28" font-family="IPAGothic, sans-serif" fill="#fff" stroke="#fff" stroke-width="0" stroke-linejoin="round">*</text>
<g clip-path="url(#gc7)"><path d="M0,857 L567,857 L567,876 Q480,884 400,893 Q300,906 200,912 Q100,916 0,923 Z" fill="#fff" opacity="0.035" filter="url(#b3)"/></g>
<g clip-path="url(#gc7)"><ellipse cx="545" cy="955" rx="25" ry="12" fill="#000" opacity="0.3" filter="url(#b10)"/></g>
<g clip-path="url(#gc7)" filter="url(#b2)">
<rect x="11.3" y="863.0" width="24.0" height="3.5" rx="1.5" fill="#fff" opacity="0.4"/>
<rect x="11.3" y="898.2" width="24.0" height="3.5" rx="1.5" fill="#fff" opacity="0.4"/>
</g>
<g clip-path="url(#gc7)" filter="url(#b2)">
<rect x="534.4" y="863.0" width="23.6" height="3.5" rx="1.5" fill="#fff" opacity="0.35"/>
<rect x="534.4" y="897.1" width="23.6" height="3.5" rx="1.5" fill="#fff" opacity="0.35"/>
</g>
<g clip-path="url(#gc7)">
<g filter="url(#b3)" opacity="0.1">
<rect x="50.3" y="931.8" width="23.5" height="16.0" fill="url(#smear)"/>
<rect x="91.2" y="931.8" width="23.2" height="16.0" fill="url(#smear)"/>
</g><g filter="url(#b3)">
<rect x="48.3" y="945.8" width="27.5" height="7.0" rx="2" fill="#9a9a9a" opacity="0.75"/>
<rect x="89.2" y="945.8" width="27.2" height="7.0" rx="2" fill="#9a9a9a" opacity="0.75"/>
</g></g>
<g clip-path="url(#gc7)">
<g filter="url(#b3)">
<rect x="132.5" y="854.0" width="23.2" height="25.2" fill="url(#smear2)" opacity="0.12"/>
<rect x="173.0" y="854.0" width="22.6" height="25.2" fill="url(#smear2)" opacity="0.12"/>
<rect x="212.9" y="854.0" width="23.3" height="25.2" fill="url(#smear2)" opacity="0.12"/>
<rect x="253.4" y="854.0" width="23.0" height="25.2" fill="url(#smear2)" opacity="0.12"/>
<rect x="293.3" y="854.0" width="22.9" height="25.2" fill="url(#smear2)" opacity="0.12"/>
<rect x="333.5" y="854.0" width="23.3" height="25.2" fill="url(#smear2)" opacity="0.12"/>
<rect x="373.4" y="854.0" width="24.0" height="25.2" fill="url(#smear2)" opacity="0.12"/>
<rect x="414.0" y="854.0" width="24.0" height="25.2" fill="url(#smear2)" opacity="0.12"/>
<rect x="454.5" y="854.0" width="22.9" height="25.2" fill="url(#smear2)" opacity="0.12"/>
<rect x="495.0" y="854.0" width="23.0" height="25.2" fill="url(#smear2)" opacity="0.12"/>
</g>
<g filter="url(#b6)" opacity="0.3">
<rect x="128.5" y="875.2" width="31.2" height="15.5" fill="#fff"/>
<rect x="169.0" y="875.2" width="30.6" height="15.5" fill="#fff"/>
<rect x="208.9" y="875.2" width="31.3" height="15.5" fill="#fff"/>
<rect x="249.4" y="875.2" width="31.0" height="15.5" fill="#fff"/>
<rect x="289.3" y="875.2" width="30.9" height="15.5" fill="#fff"/>
<rect x="329.5" y="875.2" width="31.3" height="15.5" fill="#fff"/>
<rect x="369.4" y="875.2" width="32.0" height="15.5" fill="#fff"/>
<rect x="410.0" y="875.2" width="32.0" height="15.5" fill="#fff"/>
<rect x="450.5" y="875.2" width="30.9" height="15.5" fill="#fff"/>
<rect x="491.0" y="875.2" width="31.0" height="15.5" fill="#fff"/>
</g>
<g filter="url(#b1)" opacity="0.35">
<rect x="131.5" y="876.2" width="25.2" height="7.0" fill="#fff"/>
<rect x="172.0" y="876.2" width="24.6" height="7.0" fill="#fff"/>
<rect x="211.9" y="876.2" width="25.3" height="7.0" fill="#fff"/>
<rect x="252.4" y="876.2" width="25.0" height="7.0" fill="#fff"/>
<rect x="292.3" y="876.2" width="24.9" height="7.0" fill="#fff"/>
<rect x="332.5" y="876.2" width="25.3" height="7.0" fill="#fff"/>
<rect x="372.4" y="876.2" width="26.0" height="7.0" fill="#fff"/>
<rect x="413.0" y="876.2" width="26.0" height="7.0" fill="#fff"/>
<rect x="453.5" y="876.2" width="24.9" height="7.0" fill="#fff"/>
<rect x="494.0" y="876.2" width="25.0" height="7.0" fill="#fff"/>
</g>
<g filter="url(#b07)" opacity="1.0">
<path d="M130.70,876.50 Q132.00,879.20 134.50,879.20 L153.70,879.20 Q156.20,879.20 157.50,876.50 Q159.30,883.00 158.70,883.95 Q158.70,888.70 153.95,888.70 L134.25,888.70 Q129.50,888.70 129.50,883.95 Q128.90,883.00 130.70,876.50 Z" fill="#fff"/>
<path d="M171.20,876.50 Q172.50,879.20 175.00,879.20 L193.60,879.20 Q196.10,879.20 197.40,876.50 Q199.20,883.00 198.60,883.95 Q198.60,888.70 193.85,888.70 L174.75,888.70 Q170.00,888.70 170.00,883.95 Q169.40,883.00 171.20,876.50 Z" fill="#fff"/>
<path d="M211.10,876.50 Q212.40,879.20 214.90,879.20 L234.20,879.20 Q236.70,879.20 238.00,876.50 Q239.80,883.00 239.20,883.95 Q239.20,888.70 234.45,888.70 L214.65,888.70 Q209.90,888.70 209.90,883.95 Q209.30,883.00 211.10,876.50 Z" fill="#fff"/>
<path d="M251.60,876.50 Q252.90,879.20 255.40,879.20 L274.40,879.20 Q276.90,879.20 278.20,876.50 Q280.00,883.00 279.40,883.95 Q279.40,888.70 274.65,888.70 L255.15,888.70 Q250.40,888.70 250.40,883.95 Q249.80,883.00 251.60,876.50 Z" fill="#fff"/>
<path d="M291.50,876.50 Q292.80,879.20 295.30,879.20 L314.20,879.20 Q316.70,879.20 318.00,876.50 Q319.80,883.00 319.20,883.95 Q319.20,888.70 314.45,888.70 L295.05,888.70 Q290.30,888.70 290.30,883.95 Q289.70,883.00 291.50,876.50 Z" fill="#fff"/>
<path d="M331.70,876.50 Q333.00,879.20 335.50,879.20 L354.80,879.20 Q357.30,879.20 358.60,876.50 Q360.40,883.00 359.80,883.95 Q359.80,888.70 355.05,888.70 L335.25,888.70 Q330.50,888.70 330.50,883.95 Q329.90,883.00 331.70,876.50 Z" fill="#fff"/>
<path d="M371.60,876.50 Q372.90,879.20 375.40,879.20 L395.40,879.20 Q397.90,879.20 399.20,876.50 Q401.00,883.00 400.40,883.95 Q400.40,888.70 395.65,888.70 L375.15,888.70 Q370.40,888.70 370.40,883.95 Q369.80,883.00 371.60,876.50 Z" fill="#fff"/>
<path d="M412.20,876.50 Q413.50,879.20 416.00,879.20 L436.00,879.20 Q438.50,879.20 439.80,876.50 Q441.60,883.00 441.00,883.95 Q441.00,888.70 436.25,888.70 L415.75,888.70 Q411.00,888.70 411.00,883.95 Q410.40,883.00 412.20,876.50 Z" fill="#fff"/>
<path d="M452.70,876.50 Q454.00,879.20 456.50,879.20 L475.40,879.20 Q477.90,879.20 479.20,876.50 Q481.00,883.00 480.40,883.95 Q480.40,888.70 475.65,888.70 L456.25,888.70 Q451.50,888.70 451.50,883.95 Q450.90,883.00 452.70,876.50 Z" fill="#fff"/>
<path d="M493.20,876.50 Q494.50,879.20 497.00,879.20 L516.00,879.20 Q518.50,879.20 519.80,876.50 Q521.60,883.00 521.00,883.95 Q521.00,888.70 516.25,888.70 L496.75,888.70 Q492.00,888.70 492.00,883.95 Q491.40,883.00 493.20,876.50 Z" fill="#fff"/>
</g></g>
<g clip-path="url(#gc7)" filter="url(#b1)"><ellipse cx="497" cy="878" rx="4.5" ry="6" fill="#fff"/></g>
<rect x="2.5" y="81.5" width="565.5" height="105.5" fill="none" stroke="#111" stroke-width="1" opacity="0.6"/>
<line x1="406.5" y1="81" x2="406.5" y2="187.5" stroke="#111" stroke-width="1" opacity="0.6"/>
<line x1="401.5" y1="81" x2="401.5" y2="187.5" stroke="#111" stroke-width="1" opacity="0.4"/>
<rect x="3.0" y="191.5" width="565.0" height="103.5" fill="none" stroke="#111" stroke-width="1" opacity="0.6"/>
<line x1="406.5" y1="191" x2="406.5" y2="295.5" stroke="#111" stroke-width="1" opacity="0.6"/>
<line x1="401.5" y1="191" x2="401.5" y2="295.5" stroke="#111" stroke-width="1" opacity="0.4"/>
<rect x="2.0" y="299.5" width="563.5" height="105.5" fill="none" stroke="#111" stroke-width="1" opacity="0.6"/>
<line x1="406.5" y1="299" x2="406.5" y2="405.5" stroke="#111" stroke-width="1" opacity="0.6"/>
<line x1="401.5" y1="299" x2="401.5" y2="405.5" stroke="#111" stroke-width="1" opacity="0.4"/>
<rect x="1.5" y="411.0" width="564.0" height="105.5" fill="none" stroke="#111" stroke-width="1" opacity="0.6"/>
<line x1="406.5" y1="410.5" x2="406.5" y2="517" stroke="#111" stroke-width="1" opacity="0.6"/>
<line x1="401.5" y1="410.5" x2="401.5" y2="517" stroke="#111" stroke-width="1" opacity="0.4"/>
<rect x="1.5" y="522.5" width="564.0" height="105.0" fill="none" stroke="#111" stroke-width="1" opacity="0.6"/>
<line x1="406.5" y1="522" x2="406.5" y2="628" stroke="#111" stroke-width="1" opacity="0.6"/>
<line x1="401.5" y1="522" x2="401.5" y2="628" stroke="#111" stroke-width="1" opacity="0.4"/>
<rect x="1.5" y="634.5" width="564.0" height="105.5" fill="none" stroke="#111" stroke-width="1" opacity="0.6"/>
<line x1="406.5" y1="634" x2="406.5" y2="740.5" stroke="#111" stroke-width="1" opacity="0.6"/>
<line x1="401.5" y1="634" x2="401.5" y2="740.5" stroke="#111" stroke-width="1" opacity="0.4"/>
<rect x="1.5" y="746.5" width="564.0" height="104.5" fill="none" stroke="#111" stroke-width="1" opacity="0.6"/>
<line x1="406.5" y1="746" x2="406.5" y2="851.5" stroke="#111" stroke-width="1" opacity="0.6"/>
<line x1="401.5" y1="746" x2="401.5" y2="851.5" stroke="#111" stroke-width="1" opacity="0.4"/>
<rect x="1.5" y="857.5" width="564.0" height="106.5" fill="none" stroke="#111" stroke-width="1" opacity="0.6"/>
<line x1="406.5" y1="857" x2="406.5" y2="964.5" stroke="#111" stroke-width="1" opacity="0.6"/>
<line x1="401.5" y1="857" x2="401.5" y2="964.5" stroke="#111" stroke-width="1" opacity="0.4"/>
<rect x="402.00" y="81.00" width="4.00" height="885.00" fill="#fff" />
<rect x="401" y="964" width="6" height="10" fill="#e8e8e8" filter="url(#b2)" opacity="0.6"/>
<text x="578.05" y="126.60" font-size="21.7" font-family="Liberation Serif, serif" fill="#000" >D1</text>
<text x="621.05" y="126.6" font-size="21.7" font-family="Liberation Serif, serif" xml:space="preserve"><tspan fill="#000">B02</tspan><tspan fill="#000">, </tspan><tspan fill="#f00">B05</tspan><tspan fill="#000">, </tspan><tspan fill="#000">C04</tspan><tspan fill="#000">, </tspan><tspan fill="#000">D06</tspan><tspan fill="#000">, </tspan><tspan fill="#000">E06</tspan></text>
<text x="578.05" y="152.00" font-size="21.7" font-family="Liberation Serif, serif" fill="#000" >D2</text>
<text x="621.05" y="152" font-size="21.7" font-family="Liberation Serif, serif" xml:space="preserve"><tspan fill="#000">A02</tspan><tspan fill="#000">, </tspan><tspan fill="#000">A07</tspan><tspan fill="#000">, </tspan><tspan fill="#000">B08</tspan><tspan fill="#000">, </tspan><tspan fill="#000">H02</tspan><tspan fill="#000">, </tspan><tspan fill="#000">E09</tspan><tspan fill="#000">, </tspan><tspan fill="#f00">G07</tspan></text>
<text x="578.05" y="228.00" font-size="21.7" font-family="Liberation Serif, serif" fill="#000" >D1</text>
<text x="621.05" y="228" font-size="21.7" font-family="Liberation Serif, serif" xml:space="preserve"><tspan fill="#000">A03</tspan><tspan fill="#000">, </tspan><tspan fill="#000">C05</tspan><tspan fill="#000">, </tspan><tspan fill="#000">D01</tspan><tspan fill="#000">, </tspan><tspan fill="#000">F01</tspan><tspan fill="#000">, </tspan><tspan fill="#000">E06</tspan><tspan fill="#000">, </tspan><tspan fill="#000">F06</tspan></text>
<text x="578.05" y="254.40" font-size="21.7" font-family="Liberation Serif, serif" fill="#000" >D2</text>
<text x="621.05" y="254.4" font-size="21.7" font-family="Liberation Serif, serif" xml:space="preserve"><tspan fill="#000">A08</tspan><tspan fill="#000">, </tspan><tspan fill="#000">B07</tspan><tspan fill="#000">, </tspan><tspan fill="#000">F07</tspan><tspan fill="#000">, </tspan><tspan fill="#000">G02</tspan><tspan fill="#000">, </tspan><tspan fill="#000">H04</tspan></text>
<text x="578.05" y="323.10" font-size="21.7" font-family="Liberation Serif, serif" fill="#000" >D1</text>
<text x="621.05" y="323.1" font-size="21.7" font-family="Liberation Serif, serif" xml:space="preserve"><tspan fill="#000">A08</tspan><tspan fill="#000">, </tspan><tspan fill="#000">B09</tspan><tspan fill="#000">, </tspan><tspan fill="#000">C09</tspan><tspan fill="#000">, </tspan><tspan fill="#000">C03</tspan><tspan fill="#000">, </tspan><tspan fill="#000">D03</tspan><tspan fill="#000">, </tspan><tspan fill="#000">E09,</tspan></text>
<text x="621.05" y="348.5" font-size="21.7" font-family="Liberation Serif, serif" xml:space="preserve"><tspan fill="#000">F03</tspan><tspan fill="#000">, </tspan><tspan fill="#000">H06</tspan></text>
<text x="578.05" y="374.80" font-size="21.7" font-family="Liberation Serif, serif" fill="#000" >D2</text>
<text x="621.05" y="374.8" font-size="21.7" font-family="Liberation Serif, serif" xml:space="preserve"><tspan fill="#000">B01</tspan><tspan fill="#000">, </tspan><tspan fill="#000">C04</tspan><tspan fill="#000">, </tspan><tspan fill="#f00">C08</tspan><tspan fill="#000">, </tspan><tspan fill="#000">D09</tspan><tspan fill="#000">, </tspan><tspan fill="#000">E01</tspan><tspan fill="#000">, </tspan><tspan fill="#000">G01,</tspan></text>
<text x="621.05" y="401.3" font-size="21.7" font-family="Liberation Serif, serif" xml:space="preserve"><tspan fill="#000">G09</tspan><tspan fill="#000">, </tspan><tspan fill="#000">H01</tspan><tspan fill="#000">, </tspan><tspan fill="#000">H05</tspan></text>
<text x="578.05" y="452.40" font-size="21.7" font-family="Liberation Serif, serif" fill="#000" >D1</text>
<text x="621.05" y="452.4" font-size="21.7" font-family="Liberation Serif, serif" xml:space="preserve"><tspan fill="#000">A04</tspan><tspan fill="#000">, </tspan><tspan fill="#f00">F09</tspan></text>
<text x="578.05" y="478.60" font-size="21.7" font-family="Liberation Serif, serif" fill="#000" >D2</text>
<text x="621.05" y="478.6" font-size="21.7" font-family="Liberation Serif, serif" xml:space="preserve"><tspan fill="#000">D02</tspan></text>
<text x="578.05" y="563.10" font-size="21.7" font-family="Liberation Serif, serif" fill="#000" >D1</text>
<text x="621.05" y="563.1" font-size="21.7" font-family="Liberation Serif, serif" xml:space="preserve"><tspan fill="#000">B03</tspan></text>
<text x="578.05" y="589.20" font-size="21.7" font-family="Liberation Serif, serif" fill="#000" >D2</text>
<text x="621.05" y="589.2" font-size="21.7" font-family="Liberation Serif, serif" xml:space="preserve"><tspan fill="#000">C03</tspan></text>
<text x="578.05" y="668.50" font-size="21.7" font-family="Liberation Serif, serif" fill="#000" >D1</text>
<text x="621.05" y="668.5" font-size="21.7" font-family="Liberation Serif, serif" xml:space="preserve"><tspan fill="#000">A02</tspan><tspan fill="#000">, </tspan><tspan fill="#f00">A06</tspan><tspan fill="#000">, </tspan><tspan fill="#000">E08</tspan></text>
<text x="578.05" y="694.20" font-size="21.7" font-family="Liberation Serif, serif" fill="#000" >D2</text>
<text x="621.05" y="694.2" font-size="21.7" font-family="Liberation Serif, serif" xml:space="preserve"><tspan fill="#000">B09</tspan></text>
<text x="578.05" y="785.10" font-size="21.7" font-family="Liberation Serif, serif" fill="#000" >D1</text>
<text x="621.05" y="785.1" font-size="21.7" font-family="Liberation Serif, serif" xml:space="preserve"><tspan fill="#000">B09</tspan></text>
<text x="578.05" y="810.60" font-size="21.7" font-family="Liberation Serif, serif" fill="#000" >D2</text>
<text x="621.05" y="810.6" font-size="21.7" font-family="Liberation Serif, serif" xml:space="preserve"><tspan fill="#000">C01</tspan><tspan fill="#000">, </tspan><tspan fill="#f00">E02</tspan></text>
<text x="578.05" y="888.10" font-size="21.7" font-family="Liberation Serif, serif" fill="#000" >D1</text>
<text x="621.05" y="888.1" font-size="21.7" font-family="Liberation Serif, serif" xml:space="preserve"><tspan fill="#000">D04</tspan></text>
<text x="921.42" y="41.30" font-size="48" font-family="Liberation Serif, serif" font-weight="bold" fill="#000" >b</text>
<line x1="1043.70" y1="56.00" x2="1043.70" y2="376.00" stroke="#000" stroke-width="2" />
<line x1="1036.00" y1="56.90" x2="1043.70" y2="56.90" stroke="#000" stroke-width="2" />
<text x="998.30" y="63.20" font-size="30" font-family="Liberation Serif, serif" fill="#000" >50</text>
<line x1="1036.00" y1="120.52" x2="1043.70" y2="120.52" stroke="#000" stroke-width="2" />
<text x="998.30" y="126.82" font-size="30" font-family="Liberation Serif, serif" fill="#000" >40</text>
<line x1="1036.00" y1="184.14" x2="1043.70" y2="184.14" stroke="#000" stroke-width="2" />
<text x="998.30" y="190.44" font-size="30" font-family="Liberation Serif, serif" fill="#000" >30</text>
<line x1="1036.00" y1="247.76" x2="1043.70" y2="247.76" stroke="#000" stroke-width="2" />
<text x="998.30" y="254.06" font-size="30" font-family="Liberation Serif, serif" fill="#000" >20</text>
<line x1="1036.00" y1="311.38" x2="1043.70" y2="311.38" stroke="#000" stroke-width="2" />
<text x="998.30" y="317.68" font-size="30" font-family="Liberation Serif, serif" fill="#000" >10</text>
<line x1="1036.00" y1="375.00" x2="1043.70" y2="375.00" stroke="#000" stroke-width="2" />
<text x="1013.30" y="381.30" font-size="30" font-family="Liberation Serif, serif" fill="#000" >0</text>
<line x1="1037.00" y1="375.00" x2="1643.00" y2="375.00" stroke="#000" stroke-width="2" />
<rect x="1069.50" y="130.30" width="27.50" height="244.70" fill="#fe0000" stroke="#000" stroke-width="2"/>
<rect x="1097.00" y="150.10" width="29.00" height="224.90" fill="#2040ff" stroke="#000" stroke-width="2"/>
<rect x="1126.00" y="156.70" width="29.30" height="218.30" fill="#fe8033" stroke="#000" stroke-width="2"/>
<rect x="1155.30" y="143.30" width="29.70" height="231.70" fill="#008800" stroke="#000" stroke-width="2"/>
<rect x="1214.30" y="117.70" width="29.30" height="257.30" fill="#fe0000" stroke="#000" stroke-width="2"/>
<rect x="1243.60" y="99.60" width="27.40" height="275.40" fill="#2040ff" stroke="#000" stroke-width="2"/>
<rect x="1271.00" y="105.70" width="29.30" height="269.30" fill="#fe8033" stroke="#000" stroke-width="2"/>
<rect x="1300.30" y="110.80" width="30.30" height="264.20" fill="#008800" stroke="#000" stroke-width="2"/>
<rect x="1368.70" y="304.30" width="27.80" height="70.70" fill="#fe0000" stroke="#000" stroke-width="2"/>
<rect x="1396.50" y="317.20" width="28.70" height="57.80" fill="#2040ff" stroke="#000" stroke-width="2"/>
<rect x="1425.20" y="310.50" width="29.10" height="64.50" fill="#fe8033" stroke="#000" stroke-width="2"/>
<rect x="1454.30" y="316.50" width="25.70" height="58.50" fill="#008800" stroke="#000" stroke-width="2"/>
<rect x="1519.00" y="303.30" width="27.50" height="71.70" fill="#fe0000" stroke="#000" stroke-width="2"/>
<rect x="1546.50" y="290.30" width="29.00" height="84.70" fill="#2040ff" stroke="#000" stroke-width="2"/>
<rect x="1575.50" y="284.00" width="28.50" height="91.00" fill="#fe8033" stroke="#000" stroke-width="2"/>
<rect x="1604.00" y="283.30" width="28.50" height="91.70" fill="#008800" stroke="#000" stroke-width="2"/>
<line x1="1069.00" y1="375.00" x2="1185.50" y2="375.00" stroke="#000" stroke-width="2" />
<line x1="1068.50" y1="202.70" x2="1186.00" y2="202.70" stroke="#000" stroke-width="3.6" />
<line x1="1213.30" y1="140.60" x2="1331.60" y2="140.60" stroke="#000" stroke-width="3.6" />
<line x1="1363.10" y1="270.30" x2="1480.00" y2="270.30" stroke="#000" stroke-width="3.6" />
<line x1="1519.00" y1="247.80" x2="1636.60" y2="247.80" stroke="#000" stroke-width="3.8" />
<text x="1077.25" y="115.76" font-size="27" font-family="IPAGothic, sans-serif" fill="#000" stroke="#000" stroke-width="0.7" stroke-linejoin="round">*</text>
<text x="1107.35" y="115.76" font-size="27" font-family="IPAGothic, sans-serif" fill="#000" stroke="#000" stroke-width="0.7" stroke-linejoin="round">*</text>
<text x="1137.75" y="115.76" font-size="27" font-family="IPAGothic, sans-serif" fill="#000" stroke="#000" stroke-width="0.7" stroke-linejoin="round">*</text>
<text x="1167.75" y="115.76" font-size="27" font-family="IPAGothic, sans-serif" fill="#000" stroke="#000" stroke-width="0.7" stroke-linejoin="round">*</text>
<text x="1220.55" y="92.46" font-size="27" font-family="IPAGothic, sans-serif" fill="#000" stroke="#000" stroke-width="0.7" stroke-linejoin="round">*</text>
<text x="1253.05" y="92.46" font-size="27" font-family="IPAGothic, sans-serif" fill="#000" stroke="#000" stroke-width="0.7" stroke-linejoin="round">*</text>
<text x="1282.65" y="92.46" font-size="27" font-family="IPAGothic, sans-serif" fill="#000" stroke="#000" stroke-width="0.7" stroke-linejoin="round">*</text>
<text x="1316.65" y="92.46" font-size="27" font-family="IPAGothic, sans-serif" fill="#000" stroke="#000" stroke-width="0.7" stroke-linejoin="round">*</text>
<text x="0" y="0" font-size="54" font-family="Liberation Serif, serif" font-style="italic" transform="translate(1064.3,79) scale(0.8,1.0)">%</text>
<text x="1082.04" y="402.90" font-size="28.2" font-family="Liberation Serif, serif" fill="#000" >TpC</text>
<text x="1239.17" y="402.90" font-size="28.2" font-family="Liberation Serif, serif" fill="#000" >CpC</text>
<text x="1396.17" y="402.90" font-size="28.2" font-family="Liberation Serif, serif" fill="#000" >GpC</text>
<text x="1548.72" y="402.90" font-size="28.2" font-family="Liberation Serif, serif" fill="#000" >ApC</text>
<rect x="1414.40" y="84.00" width="12.20" height="3.60" fill="#000" />
<text x="1448.24" y="90.40" font-size="24" font-family="Liberation Serif, serif" fill="#000" >expected</text>
<rect x="1409.65" y="115.65" width="20.50" height="21.90" fill="#fe2010" stroke="#000" stroke-width="1.5"/>
<rect x="1526.75" y="115.65" width="20.90" height="21.90" fill="#fe8033" stroke="#000" stroke-width="1.5"/>
<rect x="1409.65" y="158.05" width="20.50" height="21.40" fill="#2040ff" stroke="#000" stroke-width="1.5"/>
<rect x="1526.75" y="158.05" width="20.90" height="21.40" fill="#007a00" stroke="#000" stroke-width="1.5"/>
<text x="0" y="0" font-size="26" font-family="Liberation Serif, serif" fill="#000" transform="translate(1450.84,132.60) scale(0.92,1)">C08</text>
<text x="0" y="0" font-size="26" font-family="Liberation Serif, serif" fill="#000" transform="translate(1568.96,132.60) scale(0.92,1)">A06</text>
<text x="0" y="0" font-size="26" font-family="Liberation Serif, serif" fill="#000" transform="translate(1451.08,176.20) scale(0.92,1)">F09</text>
<text x="0" y="0" font-size="26" font-family="Liberation Serif, serif" fill="#000" transform="translate(1568.48,176.20) scale(0.92,1)">E02</text>
<text x="926.22" y="481.50" font-size="48" font-family="Liberation Serif, serif" font-weight="bold" fill="#000" >c</text>
<line x1="1043.00" y1="476.40" x2="1043.00" y2="777.00" stroke="#000" stroke-width="2" />
<line x1="1032.00" y1="477.40" x2="1043.00" y2="477.40" stroke="#000" stroke-width="2" />
<text x="955.72" y="486.20" font-size="28" font-family="Liberation Serif, serif" fill="#000" >10000</text>
<line x1="1032.00" y1="552.05" x2="1043.00" y2="552.05" stroke="#000" stroke-width="2" />
<text x="969.72" y="560.85" font-size="28" font-family="Liberation Serif, serif" fill="#000" >1000</text>
<line x1="1032.00" y1="626.70" x2="1043.00" y2="626.70" stroke="#000" stroke-width="2" />
<text x="983.72" y="635.50" font-size="28" font-family="Liberation Serif, serif" fill="#000" >100</text>
<line x1="1032.00" y1="701.35" x2="1043.00" y2="701.35" stroke="#000" stroke-width="2" />
<text x="997.72" y="713.35" font-size="28" font-family="Liberation Serif, serif" fill="#000" >10</text>
<line x1="1032.00" y1="776.00" x2="1043.00" y2="776.00" stroke="#000" stroke-width="2" />
<text x="1012.28" y="789.00" font-size="28" font-family="Liberation Serif, serif" fill="#000" >1</text>
<line x1="1043.00" y1="776.00" x2="1626.50" y2="776.00" stroke="#000" stroke-width="2" />
<rect x="1060.30" y="733.00" width="26.10" height="43.00" fill="#2f4ff0" stroke="#000" stroke-width="2"/>
<rect x="1086.40" y="644.20" width="28.00" height="131.80" fill="#fe0000" stroke="#000" stroke-width="2"/>
<rect x="1137.60" y="702.10" width="26.40" height="73.90" fill="#2f4ff0" stroke="#000" stroke-width="2"/>
<rect x="1164.00" y="702.60" width="27.70" height="73.40" fill="#fe0000" stroke="#000" stroke-width="2"/>
<rect x="1218.10" y="605.20" width="26.40" height="170.80" fill="#2f4ff0" stroke="#000" stroke-width="2"/>
<rect x="1244.50" y="648.10" width="27.40" height="127.90" fill="#fe0000" stroke="#000" stroke-width="2"/>
<rect x="1300.40" y="554.70" width="26.70" height="221.30" fill="#2f4ff0" stroke="#000" stroke-width="2"/>
<rect x="1327.10" y="572.30" width="26.70" height="203.70" fill="#fe0000" stroke="#000" stroke-width="2"/>
<rect x="1382.50" y="586.00" width="26.20" height="190.00" fill="#2f4ff0" stroke="#000" stroke-width="2"/>
<rect x="1408.70" y="607.50" width="26.70" height="168.50" fill="#fe0000" stroke="#000" stroke-width="2"/>
<rect x="1467.30" y="548.60" width="25.90" height="227.40" fill="#2f4ff0" stroke="#000" stroke-width="2"/>
<rect x="1493.20" y="554.60" width="27.20" height="221.40" fill="#fe0000" stroke="#000" stroke-width="2"/>
<rect x="1551.30" y="563.70" width="26.40" height="212.30" fill="#2f4ff0" stroke="#000" stroke-width="2"/>
<rect x="1577.70" y="578.60" width="27.20" height="197.40" fill="#fe0000" stroke="#000" stroke-width="2"/>
<line x1="1072.00" y1="722.40" x2="1072.00" y2="741.60" stroke="#000" stroke-width="2" />
<line x1="1060.80" y1="722.40" x2="1081.90" y2="722.40" stroke="#000" stroke-width="2" />
<line x1="1060.80" y1="741.60" x2="1081.90" y2="741.60" stroke="#000" stroke-width="2" />
<line x1="1103.20" y1="637.30" x2="1103.20" y2="646.00" stroke="#000" stroke-width="2" />
<line x1="1089.30" y1="637.30" x2="1114.70" y2="637.30" stroke="#000" stroke-width="2" />
<line x1="1089.30" y1="646.00" x2="1114.70" y2="646.00" stroke="#000" stroke-width="2" />
<line x1="1151.20" y1="683.70" x2="1151.20" y2="718.00" stroke="#000" stroke-width="2" />
<line x1="1142.10" y1="683.70" x2="1160.00" y2="683.70" stroke="#000" stroke-width="2" />
<line x1="1142.10" y1="718.00" x2="1160.00" y2="718.00" stroke="#000" stroke-width="2" />
<line x1="1179.70" y1="696.80" x2="1179.70" y2="704.00" stroke="#000" stroke-width="2" />
<line x1="1166.40" y1="696.80" x2="1191.70" y2="696.80" stroke="#000" stroke-width="2" />
<line x1="1166.40" y1="704.00" x2="1191.70" y2="704.00" stroke="#000" stroke-width="2" />
<line x1="1231.30" y1="596.10" x2="1231.30" y2="615.10" stroke="#000" stroke-width="2" />
<line x1="1221.30" y1="596.10" x2="1241.70" y2="596.10" stroke="#000" stroke-width="2" />
<line x1="1221.30" y1="615.10" x2="1241.70" y2="615.10" stroke="#000" stroke-width="2" />
<line x1="1259.10" y1="630.90" x2="1259.10" y2="665.20" stroke="#000" stroke-width="2" />
<line x1="1250.10" y1="630.90" x2="1268.00" y2="630.90" stroke="#000" stroke-width="2" />
<line x1="1250.10" y1="665.20" x2="1268.00" y2="665.20" stroke="#000" stroke-width="2" />
<line x1="1315.30" y1="549.20" x2="1315.30" y2="556.50" stroke="#000" stroke-width="2" />
<line x1="1302.70" y1="549.20" x2="1327.60" y2="549.20" stroke="#000" stroke-width="2" />
<line x1="1302.70" y1="556.50" x2="1327.60" y2="556.50" stroke="#000" stroke-width="2" />
<line x1="1340.80" y1="560.80" x2="1340.80" y2="579.90" stroke="#000" stroke-width="2" />
<line x1="1331.00" y1="560.80" x2="1351.40" y2="560.80" stroke="#000" stroke-width="2" />
<line x1="1331.00" y1="579.90" x2="1351.40" y2="579.90" stroke="#000" stroke-width="2" />
<line x1="1397.10" y1="571.00" x2="1397.10" y2="605.40" stroke="#000" stroke-width="2" />
<line x1="1387.40" y1="571.00" x2="1405.20" y2="571.00" stroke="#000" stroke-width="2" />
<line x1="1387.40" y1="605.40" x2="1405.20" y2="605.40" stroke="#000" stroke-width="2" />
<line x1="1423.10" y1="598.40" x2="1423.10" y2="617.70" stroke="#000" stroke-width="2" />
<line x1="1412.90" y1="598.40" x2="1432.60" y2="598.40" stroke="#000" stroke-width="2" />
<line x1="1412.90" y1="617.70" x2="1432.60" y2="617.70" stroke="#000" stroke-width="2" />
<line x1="1481.90" y1="539.70" x2="1481.90" y2="558.40" stroke="#000" stroke-width="2" />
<line x1="1470.90" y1="539.70" x2="1492.00" y2="539.70" stroke="#000" stroke-width="2" />
<line x1="1470.90" y1="558.40" x2="1492.00" y2="558.40" stroke="#000" stroke-width="2" />
<line x1="1508.40" y1="544.70" x2="1508.40" y2="564.40" stroke="#000" stroke-width="2" />
<line x1="1497.60" y1="544.70" x2="1518.40" y2="544.70" stroke="#000" stroke-width="2" />
<line x1="1497.60" y1="564.40" x2="1518.40" y2="564.40" stroke="#000" stroke-width="2" />
<line x1="1564.80" y1="552.90" x2="1564.80" y2="571.60" stroke="#000" stroke-width="2" />
<line x1="1553.70" y1="552.90" x2="1575.30" y2="552.90" stroke="#000" stroke-width="2" />
<line x1="1553.70" y1="571.60" x2="1575.30" y2="571.60" stroke="#000" stroke-width="2" />
<line x1="1591.00" y1="559.60" x2="1591.00" y2="594.90" stroke="#000" stroke-width="2" />
<line x1="1581.30" y1="559.60" x2="1599.60" y2="559.60" stroke="#000" stroke-width="2" />
<line x1="1581.30" y1="594.90" x2="1599.60" y2="594.90" stroke="#000" stroke-width="2" />
<text x="1061.62" y="805.40" font-size="28.2" font-family="Liberation Serif, serif" fill="#000"  transform="translate(0,805.40) scale(1,1.07) translate(0,-805.40)">A3A</text>
<text x="1133.82" y="805.40" font-size="28.2" font-family="Liberation Serif, serif" fill="#000"  transform="translate(0,805.40) scale(1,1.07) translate(0,-805.40)">A3B</text>
<text x="1218.22" y="805.40" font-size="28.2" font-family="Liberation Serif, serif" fill="#000"  transform="translate(0,805.40) scale(1,1.07) translate(0,-805.40)">A3C</text>
<text x="1286.72" y="805.40" font-size="28.2" font-family="Liberation Serif, serif" fill="#000"  transform="translate(0,805.40) scale(1,1.07) translate(0,-805.40)">A3DE</text>
<text x="1386.42" y="805.40" font-size="28.2" font-family="Liberation Serif, serif" fill="#000"  transform="translate(0,805.40) scale(1,1.07) translate(0,-805.40)">A3F</text>
<text x="1467.72" y="805.40" font-size="28.2" font-family="Liberation Serif, serif" fill="#000"  transform="translate(0,805.40) scale(1,1.07) translate(0,-805.40)">A3G</text>
<text x="1557.02" y="805.40" font-size="28.2" font-family="Liberation Serif, serif" fill="#000"  transform="translate(0,805.40) scale(1,1.07) translate(0,-805.40)">A3H</text>
<rect x="1312.15" y="464.05" width="19.20" height="21.70" fill="#2f4ff0" stroke="#000" stroke-width="1.5"/>
<rect x="1312.15" y="501.95" width="19.20" height="21.80" fill="#fe0000" stroke="#000" stroke-width="1.5"/>
<text x="0" y="0" font-size="26" font-family="Liberation Serif, serif" fill="#000" transform="translate(1344.34,482.80) scale(0.92,1)">CD4+ D1</text>
<text x="0" y="0" font-size="26" font-family="Liberation Serif, serif" fill="#000" transform="translate(1344.34,520.40) scale(0.92,1)">CD4+ D2</text>
<text x="1064.62" y="495.30" font-size="28.8" font-family="Liberation Serif, serif" fill="#000" >log</text>
<text x="1101.63" y="501.40" font-size="18.5" font-family="Liberation Serif, serif" fill="#000" >10</text>
<text x="1064.62" y="529.00" font-size="28.8" font-family="Liberation Serif, serif" fill="#000" >relative mRNA</text>
<text x="920.58" y="905.70" font-size="48" font-family="Liberation Serif, serif" font-weight="bold" fill="#000" >d</text>
<line x1="1045.10" y1="900.00" x2="1045.10" y2="1185.60" stroke="#000" stroke-width="2" />
<line x1="1044.10" y1="1184.60" x2="1304.90" y2="1184.60" stroke="#000" stroke-width="2" />
<line x1="1040.50" y1="900.60" x2="1045.10" y2="900.60" stroke="#000" stroke-width="2" />
<text x="995.55" y="907.50" font-size="21.3" font-family="Liberation Serif, serif" fill="#000"  transform="translate(0,907.50) scale(1,1.06) translate(0,-907.50)">1500</text>
<line x1="1040.50" y1="995.10" x2="1045.10" y2="995.10" stroke="#000" stroke-width="2" />
<text x="995.55" y="1002.00" font-size="21.3" font-family="Liberation Serif, serif" fill="#000"  transform="translate(0,1002.00) scale(1,1.06) translate(0,-1002.00)">1000</text>
<line x1="1040.50" y1="1090.30" x2="1045.10" y2="1090.30" stroke="#000" stroke-width="2" />
<text x="1006.20" y="1097.20" font-size="21.3" font-family="Liberation Serif, serif" fill="#000"  transform="translate(0,1097.20) scale(1,1.06) translate(0,-1097.20)">500</text>
<line x1="1109.70" y1="1184.60" x2="1109.70" y2="1190.50" stroke="#000" stroke-width="2" />
<line x1="1174.70" y1="1184.60" x2="1174.70" y2="1190.50" stroke="#000" stroke-width="2" />
<line x1="1239.30" y1="1184.60" x2="1239.30" y2="1190.50" stroke="#000" stroke-width="2" />
<line x1="1303.90" y1="1184.60" x2="1303.90" y2="1190.50" stroke="#000" stroke-width="2" />
<text x="1097.83" y="1218.00" font-size="21.5" font-family="Liberation Serif, serif" fill="#000"  transform="translate(0,1218.00) scale(1,1.06) translate(0,-1218.00)">250</text>
<text x="1161.51" y="1218.00" font-size="21.5" font-family="Liberation Serif, serif" fill="#000"  transform="translate(0,1218.00) scale(1,1.06) translate(0,-1218.00)">500</text>
<text x="1228.50" y="1218.00" font-size="21.5" font-family="Liberation Serif, serif" fill="#000"  transform="translate(0,1218.00) scale(1,1.06) translate(0,-1218.00)">750</text>
<text x="1288.27" y="1218.00" font-size="21.5" font-family="Liberation Serif, serif" fill="#000"  transform="translate(0,1218.00) scale(1,1.06) translate(0,-1218.00)">1000</text>
<text x="986.53" y="952.10" font-size="29" font-family="Liberation Serif, serif" fill="#000"  transform="translate(0,952.10) scale(1,1.07) translate(0,-952.10)">D1</text>
<text x="1193.62" y="1248.50" font-size="29.5" font-family="Liberation Serif, serif" fill="#000"  transform="translate(0,1248.50) scale(1,1.05) translate(0,-1248.50)">D2</text>
<line x1="1046.40" y1="1170.50" x2="1303.90" y2="924.90" stroke="#000" stroke-width="2" />
<circle cx="1048.9" cy="1184" r="5.6" fill="#000"/>
<circle cx="1062.9" cy="1184.6" r="5.6" fill="#000"/>
<circle cx="1060.7" cy="1146.5" r="5.6" fill="#000"/>
<circle cx="1097.9" cy="1113.4" r="5.6" fill="#000"/>
<circle cx="1169" cy="1041" r="5.6" fill="#000"/>
<circle cx="1194.6" cy="999.5" r="5.6" fill="#000"/>
<circle cx="1293.9" cy="961.4" r="5.6" fill="#000"/>
<text x="1291.21" y="950.50" font-size="18.7" font-family="Liberation Serif, serif" fill="#000" >A3G</text>
<text x="1173.51" y="984.80" font-size="18.7" font-family="Liberation Serif, serif" fill="#000" >A3DE</text>
<text x="1149.51" y="1027.00" font-size="18.7" font-family="Liberation Serif, serif" fill="#000" >A3H</text>
<text x="1078.31" y="1098.80" font-size="18.7" font-family="Liberation Serif, serif" fill="#000" >A3F</text>
<text x="1046.21" y="1135.60" font-size="18.7" font-family="Liberation Serif, serif" fill="#000" >A3C</text>
<text x="1071.21" y="1173.70" font-size="18.7" font-family="Liberation Serif, serif" fill="#000" >A3A</text>
<text x="1003.41" y="1181.50" font-size="18.7" font-family="Liberation Serif, serif" fill="#000" >A3B</text>
<text x="1184.46" y="1104.40" font-size="24" font-family="Liberation Serif, serif" fill="#000" >y = 1.3x + 68</text>
<text x="1183.28" y="1138.1" font-size="24" font-family="Liberation Serif, serif">R<tspan font-size="15.5" dy="-7.4" dx="0.5">2</tspan><tspan dy="7.4" dx="4.5">= 0.93</tspan></text>
<text x="1.32" y="1033.50" font-size="48" font-family="Liberation Serif, serif" font-weight="bold" fill="#000" >e</text>
<text x="222.61" y="1044.00" font-size="28.6" font-family="Liberation Serif, serif" fill="#000" >A3H residues</text>
<text x="56.55" y="1088.00" font-size="28.4" font-family="Liberation Serif, serif" fill="#000" >Donor</text>
<text x="158.59" y="1088.60" font-size="28.4" font-family="Liberation Serif, serif" fill="#000" >15</text>
<text x="201.99" y="1088.60" font-size="28.4" font-family="Liberation Serif, serif" fill="#000" >18</text>
<text x="253.19" y="1088.60" font-size="28.4" font-family="Liberation Serif, serif" fill="#000" >105</text>
<text x="311.39" y="1088.60" font-size="28.4" font-family="Liberation Serif, serif" fill="#000" >121</text>
<text x="362.59" y="1088.60" font-size="28.4" font-family="Liberation Serif, serif" fill="#000" >178</text>
<text x="427.32" y="1088.60" font-size="28.4" font-family="Liberation Serif, serif" fill="#000" >haplotype</text>
<line x1="44.00" y1="1104.30" x2="566.10" y2="1104.30" stroke="#000" stroke-width="2.4" />
<line x1="46.00" y1="1237.90" x2="566.10" y2="1237.90" stroke="#000" stroke-width="2.4" />
<text x="56.55" y="1131.60" font-size="28.4" font-family="Liberation Serif, serif" fill="#000" >D1</text>
<text x="56.55" y="1200.00" font-size="28.4" font-family="Liberation Serif, serif" fill="#000" >D2</text>
<text x="160.13" y="1131.50" font-size="28.4" font-family="Liberation Serif, serif" fill="#000" >N</text>
<text x="218.63" y="1131.50" font-size="28.4" font-family="Liberation Serif, serif" fill="#000" >R</text>
<text x="273.43" y="1131.50" font-size="28.4" font-family="Liberation Serif, serif" fill="#000" >G</text>
<text x="329.99" y="1131.50" font-size="28.4" font-family="Liberation Serif, serif" fill="#000" >K</text>
<text x="388.62" y="1131.50" font-size="28.4" font-family="Liberation Serif, serif" fill="#000" >E</text>
<text x="471.04" y="1131.50" font-size="28.4" font-family="Liberation Serif, serif" fill="#000" >I</text>
<text x="160.13" y="1160.60" font-size="28.4" font-family="Liberation Serif, serif" fill="#000" >N</text>
<text x="218.63" y="1160.60" font-size="28.4" font-family="Liberation Serif, serif" fill="#000" >R</text>
<text x="273.93" y="1160.60" font-size="28.4" font-family="Liberation Serif, serif" fill="#000" >R</text>
<text x="330.35" y="1160.60" font-size="28.4" font-family="Liberation Serif, serif" fill="#000" >D</text>
<text x="386.85" y="1160.60" font-size="28.4" font-family="Liberation Serif, serif" fill="#000" >D</text>
<text x="466.29" y="1160.60" font-size="28.4" font-family="Liberation Serif, serif" fill="#000" >II</text>
<text x="160.13" y="1199.80" font-size="28.4" font-family="Liberation Serif, serif" fill="#000" >N</text>
<text x="218.63" y="1199.80" font-size="28.4" font-family="Liberation Serif, serif" fill="#000" >R</text>
<text x="273.43" y="1199.80" font-size="28.4" font-family="Liberation Serif, serif" fill="#000" >G</text>
<text x="329.99" y="1199.80" font-size="28.4" font-family="Liberation Serif, serif" fill="#000" >K</text>
<text x="388.62" y="1199.80" font-size="28.4" font-family="Liberation Serif, serif" fill="#000" >E</text>
<text x="471.04" y="1199.80" font-size="28.4" font-family="Liberation Serif, serif" fill="#000" >I</text>
<text x="160.13" y="1228.50" font-size="28.4" font-family="Liberation Serif, serif" fill="#000" >N</text>
<text x="218.63" y="1228.50" font-size="28.4" font-family="Liberation Serif, serif" fill="#000" >R</text>
<text x="273.93" y="1228.50" font-size="28.4" font-family="Liberation Serif, serif" fill="#000" >R</text>
<text x="330.35" y="1228.50" font-size="28.4" font-family="Liberation Serif, serif" fill="#000" >D</text>
<text x="386.85" y="1228.50" font-size="28.4" font-family="Liberation Serif, serif" fill="#000" >D</text>
<text x="466.29" y="1228.50" font-size="28.4" font-family="Liberation Serif, serif" fill="#000" >II</text>
</svg></body></html>
